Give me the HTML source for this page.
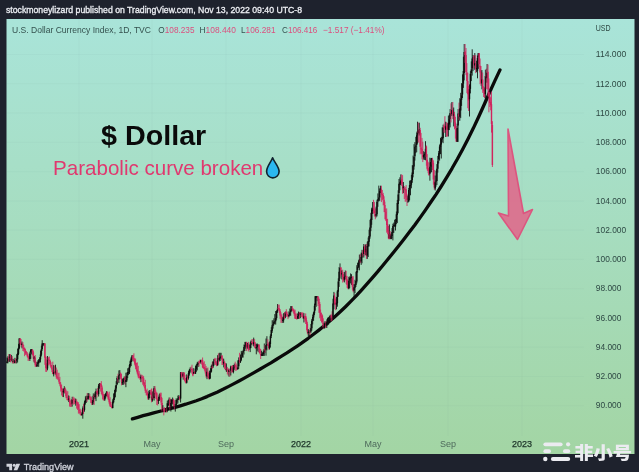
<!DOCTYPE html>
<html lang="en">
<head>
<meta charset="utf-8">
<title>U.S. Dollar Currency Index</title>
<style>
html,body{margin:0;padding:0;background:#1e222d;}
body{width:639px;height:472px;overflow:hidden;position:relative;font-family:"Liberation Sans","Noto Sans CJK SC",sans-serif;}
svg{position:absolute;left:0;top:0;display:block}
text{font-family:"Liberation Sans","Noto Sans CJK SC",sans-serif;}
.hdr{font-size:9.3px;fill:#eceef3;stroke:#eceef3;stroke-width:.32px}
.lg{font-size:9px;fill:#35524f}
.lg .v{fill:#dc4f7e}
.ax text{font-size:9px;fill:#2f4a45}
.ax .mo{fill:#4f6b5c}
.ax .yr{fill:#20382c;stroke:#20382c;stroke-width:.25px}
.grid path{stroke:#5a8f80;stroke-opacity:.05;stroke-width:1;fill:none}
.tv{font-size:8.9px;fill:#d1d4dc;stroke:#d1d4dc;stroke-width:.3px}
.wm{font-size:17.3px;font-weight:900;fill:#ebebf0}
</style>
</head>
<body>
<svg width="639" height="472" viewBox="0 0 639 472">
<defs>
<linearGradient id="bg" x1="0" y1="0" x2="0" y2="1">
<stop offset="0" stop-color="#a9e4d9"/>
<stop offset="1" stop-color="#a3d5a4"/>
</linearGradient>
</defs>
<rect x="0" y="0" width="639" height="472" fill="#1e222d"/>
<rect x="6.5" y="19" width="628" height="435" fill="url(#bg)"/>
<g class="grid"><path d="M6.5 405.8H584"/><path d="M6.5 376.5H584"/><path d="M6.5 347.2H584"/><path d="M6.5 317.9H584"/><path d="M6.5 288.7H584"/><path d="M6.5 259.4H584"/><path d="M6.5 230.1H584"/><path d="M6.5 200.9H584"/><path d="M6.5 171.6H584"/><path d="M6.5 142.3H584"/><path d="M6.5 113.1H584"/><path d="M6.5 83.8H584"/><path d="M6.5 54.5H584"/><path d="M79 19V436"/><path d="M152 19V436"/><path d="M226 19V436"/><path d="M301 19V436"/><path d="M373 19V436"/><path d="M448 19V436"/><path d="M522 19V436"/></g>
<text class="hdr" x="6" y="12.7" textLength="296" lengthAdjust="spacingAndGlyphs">stockmoneylizard published on TradingView.com, Nov 13, 2022 09:40 UTC-8</text>
<g class="lg">
<text x="12" y="32.6" textLength="139" lengthAdjust="spacingAndGlyphs">U.S. Dollar Currency Index, 1D, TVC</text>
<text x="158.3" y="32.6" textLength="36.2" lengthAdjust="spacingAndGlyphs">O<tspan class="v">108.235</tspan></text>
<text x="199.5" y="32.6" textLength="36.5" lengthAdjust="spacingAndGlyphs">H<tspan class="v">108.440</tspan></text>
<text x="241" y="32.6" textLength="34.5" lengthAdjust="spacingAndGlyphs">L<tspan class="v">106.281</tspan></text>
<text x="282" y="32.6" textLength="35.3" lengthAdjust="spacingAndGlyphs">C<tspan class="v">106.416</tspan></text>
<text x="323" y="32.6" class="v" textLength="61.5" lengthAdjust="spacingAndGlyphs">−1.517 (−1.41%)</text>
</g>
<g class="ax">
<text x="595.8" y="31.2" textLength="14.8" lengthAdjust="spacingAndGlyphs">USD</text>
<text x="595.8" y="408.4" textLength="25.6" lengthAdjust="spacingAndGlyphs">90.000</text>
<text x="595.8" y="379.2" textLength="25.6" lengthAdjust="spacingAndGlyphs">92.000</text>
<text x="595.8" y="349.9" textLength="25.6" lengthAdjust="spacingAndGlyphs">94.000</text>
<text x="595.8" y="320.6" textLength="25.6" lengthAdjust="spacingAndGlyphs">96.000</text>
<text x="595.8" y="291.4" textLength="25.6" lengthAdjust="spacingAndGlyphs">98.000</text>
<text x="595.8" y="262.1" textLength="30.4" lengthAdjust="spacingAndGlyphs">100.000</text>
<text x="595.8" y="232.8" textLength="30.4" lengthAdjust="spacingAndGlyphs">102.000</text>
<text x="595.8" y="203.6" textLength="30.4" lengthAdjust="spacingAndGlyphs">104.000</text>
<text x="595.8" y="174.3" textLength="30.4" lengthAdjust="spacingAndGlyphs">106.000</text>
<text x="595.8" y="145.0" textLength="30.4" lengthAdjust="spacingAndGlyphs">108.000</text>
<text x="595.8" y="115.8" textLength="30.4" lengthAdjust="spacingAndGlyphs">110.000</text>
<text x="595.8" y="86.5" textLength="30.4" lengthAdjust="spacingAndGlyphs">112.000</text>
<text x="595.8" y="57.2" textLength="30.4" lengthAdjust="spacingAndGlyphs">114.000</text>
<text class="yr" x="79" y="447.3" text-anchor="middle">2021</text>
<text class="mo" x="152" y="447.3" text-anchor="middle">May</text>
<text class="mo" x="226" y="447.3" text-anchor="middle">Sep</text>
<text class="yr" x="301" y="447.3" text-anchor="middle">2022</text>
<text class="mo" x="373" y="447.3" text-anchor="middle">May</text>
<text class="mo" x="448" y="447.3" text-anchor="middle">Sep</text>
<text class="yr" x="522" y="447.3" text-anchor="middle">2023</text>
</g>
<path d="M132.4 418.9L137.7 417.3L143.1 415.7L148.4 414.3L153.7 412.9L159.0 411.5L164.4 410.1L169.7 408.7L175.0 407.3L180.3 405.8L185.7 404.2L191.0 402.5L196.3 400.7L201.7 398.7L207.0 396.6L212.3 394.3L217.6 391.9L223.0 389.3L228.3 386.6L233.6 383.9L239.0 381.0L244.3 378.1L249.6 375.1L254.9 372.1L260.3 369.0L265.6 365.9L270.9 362.8L276.2 359.5L281.6 356.2L286.9 352.9L292.2 349.4L297.6 345.8L302.9 342.1L308.2 338.3L313.5 334.3L318.9 330.1L324.2 325.8L329.5 321.3L334.8 316.7L340.2 311.8L345.5 306.7L350.8 301.4L356.2 295.9L361.5 290.1L366.8 284.2L372.1 278.1L377.5 271.9L382.8 265.5L388.1 259.0L393.4 252.5L398.8 245.8L404.1 239.0L409.4 232.1L414.8 225.0L420.1 217.6L425.4 210.1L430.7 202.3L436.1 194.3L441.4 186.0L446.7 177.3L452.1 168.3L457.4 159.0L462.7 149.2L468.0 138.9L473.4 128.1L478.7 116.8L484.0 105.0L489.3 93.0L494.7 81.1L500.0 69.9" fill="none" stroke="#0a0a0a" stroke-width="3.3" stroke-linecap="round" stroke-linejoin="round"/>
<g id="candles" shape-rendering="auto">
<path d="M7.0 357.5V363.4" stroke="#0d0d0d" stroke-width="1" opacity=".85"/>
<path d="M7.0 361.5V363.1" stroke="#0d0d0d" stroke-width="1.4"/>
<path d="M7.9 356.2V363.3" stroke="#0d0d0d" stroke-width="1" opacity=".85"/>
<path d="M7.9 358.3V361.6" stroke="#0d0d0d" stroke-width="1.4"/>
<path d="M8.8 354.1V361.6" stroke="#d0245d" stroke-width="1" opacity=".85"/>
<path d="M8.8 357.5V358.7" stroke="#d0245d" stroke-width="1.4"/>
<path d="M9.6 354.1V361.9" stroke="#0d0d0d" stroke-width="1" opacity=".85"/>
<path d="M9.6 356.6V358.2" stroke="#0d0d0d" stroke-width="1.4"/>
<path d="M10.5 354.1V362.3" stroke="#d0245d" stroke-width="1" opacity=".85"/>
<path d="M10.5 356.3V359.1" stroke="#d0245d" stroke-width="1.4"/>
<path d="M11.4 354.9V361.3" stroke="#0d0d0d" stroke-width="1" opacity=".85"/>
<path d="M11.4 358.8V360.0" stroke="#0d0d0d" stroke-width="1.4"/>
<path d="M12.3 356.1V363.4" stroke="#d0245d" stroke-width="1" opacity=".85"/>
<path d="M12.3 358.8V360.3" stroke="#d0245d" stroke-width="1.4"/>
<path d="M13.2 358.8V363.4" stroke="#0d0d0d" stroke-width="1" opacity=".85"/>
<path d="M13.2 360.7V361.9" stroke="#0d0d0d" stroke-width="1.4"/>
<path d="M14.0 360.1V363.4" stroke="#d0245d" stroke-width="1" opacity=".85"/>
<path d="M14.0 361.5V363.1" stroke="#d0245d" stroke-width="1.4"/>
<path d="M14.9 357.8V363.4" stroke="#0d0d0d" stroke-width="1" opacity=".85"/>
<path d="M14.9 360.2V363.1" stroke="#0d0d0d" stroke-width="1.4"/>
<path d="M15.8 358.3V363.4" stroke="#d0245d" stroke-width="1" opacity=".85"/>
<path d="M15.8 359.5V360.7" stroke="#d0245d" stroke-width="1.4"/>
<path d="M16.7 354.2V363.4" stroke="#0d0d0d" stroke-width="1" opacity=".85"/>
<path d="M16.7 359.2V360.4" stroke="#0d0d0d" stroke-width="1.4"/>
<path d="M17.6 348.7V362.5" stroke="#0d0d0d" stroke-width="1" opacity=".85"/>
<path d="M17.6 353.3V359.3" stroke="#0d0d0d" stroke-width="1.4"/>
<path d="M18.5 343.8V355.1" stroke="#0d0d0d" stroke-width="1" opacity=".85"/>
<path d="M18.5 347.8V353.8" stroke="#0d0d0d" stroke-width="1.4"/>
<path d="M19.3 338.1V349.3" stroke="#0d0d0d" stroke-width="1" opacity=".85"/>
<path d="M19.3 338.4V348.2" stroke="#0d0d0d" stroke-width="1.4"/>
<path d="M20.2 338.1V344.8" stroke="#d0245d" stroke-width="1" opacity=".85"/>
<path d="M20.2 338.4V343.3" stroke="#d0245d" stroke-width="1.4"/>
<path d="M21.1 339.1V347.2" stroke="#d0245d" stroke-width="1" opacity=".85"/>
<path d="M21.1 342.9V344.9" stroke="#d0245d" stroke-width="1.4"/>
<path d="M22.0 341.5V348.4" stroke="#0d0d0d" stroke-width="1" opacity=".85"/>
<path d="M22.0 343.7V344.9" stroke="#0d0d0d" stroke-width="1.4"/>
<path d="M22.9 342.1V351.0" stroke="#d0245d" stroke-width="1" opacity=".85"/>
<path d="M22.9 344.4V347.7" stroke="#d0245d" stroke-width="1.4"/>
<path d="M23.7 344.8V351.5" stroke="#d0245d" stroke-width="1" opacity=".85"/>
<path d="M23.7 347.9V349.1" stroke="#d0245d" stroke-width="1.4"/>
<path d="M24.6 347.4V356.2" stroke="#d0245d" stroke-width="1" opacity=".85"/>
<path d="M24.6 348.2V350.2" stroke="#d0245d" stroke-width="1.4"/>
<path d="M25.5 348.9V354.8" stroke="#d0245d" stroke-width="1" opacity=".85"/>
<path d="M25.5 350.5V352.8" stroke="#d0245d" stroke-width="1.4"/>
<path d="M26.4 351.0V354.9" stroke="#d0245d" stroke-width="1" opacity=".85"/>
<path d="M26.4 352.2V353.5" stroke="#d0245d" stroke-width="1.4"/>
<path d="M27.3 352.2V357.4" stroke="#d0245d" stroke-width="1" opacity=".85"/>
<path d="M27.3 354.4V356.3" stroke="#d0245d" stroke-width="1.4"/>
<path d="M28.1 353.5V360.9" stroke="#d0245d" stroke-width="1" opacity=".85"/>
<path d="M28.1 356.2V357.4" stroke="#d0245d" stroke-width="1.4"/>
<path d="M29.0 355.6V360.9" stroke="#d0245d" stroke-width="1" opacity=".85"/>
<path d="M29.0 357.0V359.0" stroke="#d0245d" stroke-width="1.4"/>
<path d="M29.9 351.6V360.9" stroke="#0d0d0d" stroke-width="1" opacity=".85"/>
<path d="M29.9 353.4V358.9" stroke="#0d0d0d" stroke-width="1.4"/>
<path d="M30.8 349.1V358.8" stroke="#0d0d0d" stroke-width="1" opacity=".85"/>
<path d="M30.8 349.4V352.5" stroke="#0d0d0d" stroke-width="1.4"/>
<path d="M31.7 349.1V354.4" stroke="#0d0d0d" stroke-width="1" opacity=".85"/>
<path d="M31.7 349.4V350.6" stroke="#0d0d0d" stroke-width="1.4"/>
<path d="M32.5 349.1V355.4" stroke="#d0245d" stroke-width="1" opacity=".85"/>
<path d="M32.5 349.8V352.2" stroke="#d0245d" stroke-width="1.4"/>
<path d="M33.4 350.6V361.7" stroke="#d0245d" stroke-width="1" opacity=".85"/>
<path d="M33.4 352.3V358.6" stroke="#d0245d" stroke-width="1.4"/>
<path d="M34.3 356.1V362.8" stroke="#0d0d0d" stroke-width="1" opacity=".85"/>
<path d="M34.3 357.6V358.8" stroke="#0d0d0d" stroke-width="1.4"/>
<path d="M35.2 355.0V366.8" stroke="#d0245d" stroke-width="1" opacity=".85"/>
<path d="M35.2 357.6V364.7" stroke="#d0245d" stroke-width="1.4"/>
<path d="M36.1 361.4V366.9" stroke="#d0245d" stroke-width="1" opacity=".85"/>
<path d="M36.1 363.4V366.6" stroke="#d0245d" stroke-width="1.4"/>
<path d="M37.0 362.0V366.9" stroke="#0d0d0d" stroke-width="1" opacity=".85"/>
<path d="M37.0 364.5V366.6" stroke="#0d0d0d" stroke-width="1.4"/>
<path d="M37.8 360.3V365.7" stroke="#0d0d0d" stroke-width="1" opacity=".85"/>
<path d="M37.8 362.6V363.8" stroke="#0d0d0d" stroke-width="1.4"/>
<path d="M38.7 359.1V366.9" stroke="#0d0d0d" stroke-width="1" opacity=".85"/>
<path d="M38.7 360.4V363.3" stroke="#0d0d0d" stroke-width="1.4"/>
<path d="M39.6 357.2V362.5" stroke="#0d0d0d" stroke-width="1" opacity=".85"/>
<path d="M39.6 359.4V360.6" stroke="#0d0d0d" stroke-width="1.4"/>
<path d="M40.5 350.6V362.4" stroke="#0d0d0d" stroke-width="1" opacity=".85"/>
<path d="M40.5 354.5V359.3" stroke="#0d0d0d" stroke-width="1.4"/>
<path d="M41.4 345.6V356.4" stroke="#0d0d0d" stroke-width="1" opacity=".85"/>
<path d="M41.4 349.2V354.7" stroke="#0d0d0d" stroke-width="1.4"/>
<path d="M42.2 340.2V350.8" stroke="#0d0d0d" stroke-width="1" opacity=".85"/>
<path d="M42.2 343.5V349.1" stroke="#0d0d0d" stroke-width="1.4"/>
<path d="M43.1 343.1V345.8" stroke="#0d0d0d" stroke-width="1" opacity=".85"/>
<path d="M43.1 343.4V344.6" stroke="#0d0d0d" stroke-width="1.4"/>
<path d="M44.0 343.1V346.3" stroke="#0d0d0d" stroke-width="1" opacity=".85"/>
<path d="M44.0 343.4V344.6" stroke="#0d0d0d" stroke-width="1.4"/>
<path d="M44.9 343.1V364.9" stroke="#d0245d" stroke-width="1" opacity=".85"/>
<path d="M44.9 343.4V357.8" stroke="#d0245d" stroke-width="1.4"/>
<path d="M45.8 356.1V371.9" stroke="#d0245d" stroke-width="1" opacity=".85"/>
<path d="M45.8 357.1V368.0" stroke="#d0245d" stroke-width="1.4"/>
<path d="M46.6 363.3V371.9" stroke="#d0245d" stroke-width="1" opacity=".85"/>
<path d="M46.6 367.8V369.0" stroke="#d0245d" stroke-width="1.4"/>
<path d="M47.5 356.0V370.3" stroke="#0d0d0d" stroke-width="1" opacity=".85"/>
<path d="M47.5 359.4V368.4" stroke="#0d0d0d" stroke-width="1.4"/>
<path d="M48.4 357.2V365.4" stroke="#d0245d" stroke-width="1" opacity=".85"/>
<path d="M48.4 358.7V359.9" stroke="#d0245d" stroke-width="1.4"/>
<path d="M49.3 356.5V363.8" stroke="#d0245d" stroke-width="1" opacity=".85"/>
<path d="M49.3 359.9V361.1" stroke="#d0245d" stroke-width="1.4"/>
<path d="M50.2 359.6V366.4" stroke="#d0245d" stroke-width="1" opacity=".85"/>
<path d="M50.2 360.9V364.7" stroke="#d0245d" stroke-width="1.4"/>
<path d="M51.1 362.3V368.3" stroke="#d0245d" stroke-width="1" opacity=".85"/>
<path d="M51.1 364.9V367.4" stroke="#d0245d" stroke-width="1.4"/>
<path d="M51.9 365.0V372.0" stroke="#d0245d" stroke-width="1" opacity=".85"/>
<path d="M51.9 367.4V369.4" stroke="#d0245d" stroke-width="1.4"/>
<path d="M52.8 361.6V374.2" stroke="#d0245d" stroke-width="1" opacity=".85"/>
<path d="M52.8 369.7V373.9" stroke="#d0245d" stroke-width="1.4"/>
<path d="M53.7 365.1V376.4" stroke="#0d0d0d" stroke-width="1" opacity=".85"/>
<path d="M53.7 372.0V374.3" stroke="#0d0d0d" stroke-width="1.4"/>
<path d="M54.6 365.7V374.2" stroke="#d0245d" stroke-width="1" opacity=".85"/>
<path d="M54.6 371.3V372.9" stroke="#d0245d" stroke-width="1.4"/>
<path d="M55.5 364.7V374.6" stroke="#0d0d0d" stroke-width="1" opacity=".85"/>
<path d="M55.5 371.6V373.0" stroke="#0d0d0d" stroke-width="1.4"/>
<path d="M56.3 367.5V378.8" stroke="#d0245d" stroke-width="1" opacity=".85"/>
<path d="M56.3 372.5V376.7" stroke="#d0245d" stroke-width="1.4"/>
<path d="M57.2 369.7V379.5" stroke="#d0245d" stroke-width="1" opacity=".85"/>
<path d="M57.2 376.5V377.7" stroke="#d0245d" stroke-width="1.4"/>
<path d="M58.1 372.8V380.1" stroke="#d0245d" stroke-width="1" opacity=".85"/>
<path d="M58.1 377.6V378.8" stroke="#d0245d" stroke-width="1.4"/>
<path d="M59.0 372.8V383.8" stroke="#d0245d" stroke-width="1" opacity=".85"/>
<path d="M59.0 379.3V381.7" stroke="#d0245d" stroke-width="1.4"/>
<path d="M59.9 376.9V386.3" stroke="#d0245d" stroke-width="1" opacity=".85"/>
<path d="M59.9 381.9V384.2" stroke="#d0245d" stroke-width="1.4"/>
<path d="M60.7 382.3V391.6" stroke="#d0245d" stroke-width="1" opacity=".85"/>
<path d="M60.7 384.4V388.3" stroke="#d0245d" stroke-width="1.4"/>
<path d="M61.6 384.6V395.5" stroke="#d0245d" stroke-width="1" opacity=".85"/>
<path d="M61.6 387.8V389.6" stroke="#d0245d" stroke-width="1.4"/>
<path d="M62.5 388.5V396.9" stroke="#d0245d" stroke-width="1" opacity=".85"/>
<path d="M62.5 389.7V391.6" stroke="#d0245d" stroke-width="1.4"/>
<path d="M63.4 388.8V397.1" stroke="#0d0d0d" stroke-width="1" opacity=".85"/>
<path d="M63.4 391.0V392.4" stroke="#0d0d0d" stroke-width="1.4"/>
<path d="M64.3 386.2V393.3" stroke="#0d0d0d" stroke-width="1" opacity=".85"/>
<path d="M64.3 387.9V391.4" stroke="#0d0d0d" stroke-width="1.4"/>
<path d="M65.1 387.4V393.6" stroke="#d0245d" stroke-width="1" opacity=".85"/>
<path d="M65.1 388.5V392.7" stroke="#d0245d" stroke-width="1.4"/>
<path d="M66.0 389.6V398.2" stroke="#d0245d" stroke-width="1" opacity=".85"/>
<path d="M66.0 392.7V396.2" stroke="#d0245d" stroke-width="1.4"/>
<path d="M66.9 390.8V400.1" stroke="#d0245d" stroke-width="1" opacity=".85"/>
<path d="M66.9 396.6V398.0" stroke="#d0245d" stroke-width="1.4"/>
<path d="M67.8 391.3V400.7" stroke="#d0245d" stroke-width="1" opacity=".85"/>
<path d="M67.8 398.7V399.9" stroke="#d0245d" stroke-width="1.4"/>
<path d="M68.7 395.4V402.0" stroke="#0d0d0d" stroke-width="1" opacity=".85"/>
<path d="M68.7 398.5V399.7" stroke="#0d0d0d" stroke-width="1.4"/>
<path d="M69.6 396.0V406.6" stroke="#d0245d" stroke-width="1" opacity=".85"/>
<path d="M69.6 398.4V402.8" stroke="#d0245d" stroke-width="1.4"/>
<path d="M70.4 400.4V406.9" stroke="#d0245d" stroke-width="1" opacity=".85"/>
<path d="M70.4 403.2V404.4" stroke="#d0245d" stroke-width="1.4"/>
<path d="M71.3 399.8V406.9" stroke="#d0245d" stroke-width="1" opacity=".85"/>
<path d="M71.3 403.0V404.2" stroke="#d0245d" stroke-width="1.4"/>
<path d="M72.2 396.8V406.6" stroke="#0d0d0d" stroke-width="1" opacity=".85"/>
<path d="M72.2 399.3V403.5" stroke="#0d0d0d" stroke-width="1.4"/>
<path d="M73.1 396.6V404.8" stroke="#d0245d" stroke-width="1" opacity=".85"/>
<path d="M73.1 398.7V399.9" stroke="#d0245d" stroke-width="1.4"/>
<path d="M74.0 397.3V404.1" stroke="#d0245d" stroke-width="1" opacity=".85"/>
<path d="M74.0 399.4V400.6" stroke="#d0245d" stroke-width="1.4"/>
<path d="M74.8 398.2V404.2" stroke="#d0245d" stroke-width="1" opacity=".85"/>
<path d="M74.8 400.8V402.0" stroke="#d0245d" stroke-width="1.4"/>
<path d="M75.7 398.6V405.7" stroke="#0d0d0d" stroke-width="1" opacity=".85"/>
<path d="M75.7 401.4V402.6" stroke="#0d0d0d" stroke-width="1.4"/>
<path d="M76.6 399.2V408.6" stroke="#d0245d" stroke-width="1" opacity=".85"/>
<path d="M76.6 402.2V403.6" stroke="#d0245d" stroke-width="1.4"/>
<path d="M77.5 401.5V409.9" stroke="#d0245d" stroke-width="1" opacity=".85"/>
<path d="M77.5 403.4V404.6" stroke="#d0245d" stroke-width="1.4"/>
<path d="M78.4 402.2V413.6" stroke="#d0245d" stroke-width="1" opacity=".85"/>
<path d="M78.4 404.3V408.8" stroke="#d0245d" stroke-width="1.4"/>
<path d="M79.2 404.2V413.3" stroke="#d0245d" stroke-width="1" opacity=".85"/>
<path d="M79.2 409.4V411.3" stroke="#d0245d" stroke-width="1.4"/>
<path d="M80.1 408.7V414.8" stroke="#d0245d" stroke-width="1" opacity=".85"/>
<path d="M80.1 411.2V413.6" stroke="#d0245d" stroke-width="1.4"/>
<path d="M81.0 409.5V415.9" stroke="#d0245d" stroke-width="1" opacity=".85"/>
<path d="M81.0 413.9V415.1" stroke="#d0245d" stroke-width="1.4"/>
<path d="M81.9 412.3V415.8" stroke="#0d0d0d" stroke-width="1" opacity=".85"/>
<path d="M81.9 413.7V414.9" stroke="#0d0d0d" stroke-width="1.4"/>
<path d="M82.8 406.4V418.7" stroke="#0d0d0d" stroke-width="1" opacity=".85"/>
<path d="M82.8 408.3V413.9" stroke="#0d0d0d" stroke-width="1.4"/>
<path d="M83.6 403.9V414.1" stroke="#d0245d" stroke-width="1" opacity=".85"/>
<path d="M83.6 409.1V410.3" stroke="#d0245d" stroke-width="1.4"/>
<path d="M84.5 400.8V411.7" stroke="#0d0d0d" stroke-width="1" opacity=".85"/>
<path d="M84.5 402.6V409.9" stroke="#0d0d0d" stroke-width="1.4"/>
<path d="M85.4 396.3V404.6" stroke="#0d0d0d" stroke-width="1" opacity=".85"/>
<path d="M85.4 399.8V402.7" stroke="#0d0d0d" stroke-width="1.4"/>
<path d="M86.3 395.7V402.9" stroke="#0d0d0d" stroke-width="1" opacity=".85"/>
<path d="M86.3 398.1V399.4" stroke="#0d0d0d" stroke-width="1.4"/>
<path d="M87.2 393.1V401.8" stroke="#d0245d" stroke-width="1" opacity=".85"/>
<path d="M87.2 397.4V399.2" stroke="#d0245d" stroke-width="1.4"/>
<path d="M88.1 393.1V400.0" stroke="#0d0d0d" stroke-width="1" opacity=".85"/>
<path d="M88.1 395.9V399.1" stroke="#0d0d0d" stroke-width="1.4"/>
<path d="M88.9 393.1V398.2" stroke="#0d0d0d" stroke-width="1" opacity=".85"/>
<path d="M88.9 396.1V397.3" stroke="#0d0d0d" stroke-width="1.4"/>
<path d="M89.8 394.0V400.0" stroke="#d0245d" stroke-width="1" opacity=".85"/>
<path d="M89.8 396.5V398.3" stroke="#d0245d" stroke-width="1.4"/>
<path d="M90.7 396.5V403.1" stroke="#d0245d" stroke-width="1" opacity=".85"/>
<path d="M90.7 398.5V399.7" stroke="#d0245d" stroke-width="1.4"/>
<path d="M91.6 396.6V404.9" stroke="#d0245d" stroke-width="1" opacity=".85"/>
<path d="M91.6 400.2V401.9" stroke="#d0245d" stroke-width="1.4"/>
<path d="M92.5 400.1V404.9" stroke="#0d0d0d" stroke-width="1" opacity=".85"/>
<path d="M92.5 401.9V403.1" stroke="#0d0d0d" stroke-width="1.4"/>
<path d="M93.3 393.4V404.5" stroke="#0d0d0d" stroke-width="1" opacity=".85"/>
<path d="M93.3 395.8V401.9" stroke="#0d0d0d" stroke-width="1.4"/>
<path d="M94.2 394.5V404.9" stroke="#d0245d" stroke-width="1" opacity=".85"/>
<path d="M94.2 395.9V397.1" stroke="#d0245d" stroke-width="1.4"/>
<path d="M95.1 391.8V399.2" stroke="#0d0d0d" stroke-width="1" opacity=".85"/>
<path d="M95.1 393.4V397.2" stroke="#0d0d0d" stroke-width="1.4"/>
<path d="M96.0 388.6V401.1" stroke="#0d0d0d" stroke-width="1" opacity=".85"/>
<path d="M96.0 391.2V393.8" stroke="#0d0d0d" stroke-width="1.4"/>
<path d="M96.9 390.4V397.5" stroke="#d0245d" stroke-width="1" opacity=".85"/>
<path d="M96.9 391.2V392.4" stroke="#d0245d" stroke-width="1.4"/>
<path d="M97.7 387.9V395.0" stroke="#d0245d" stroke-width="1" opacity=".85"/>
<path d="M97.7 390.9V393.5" stroke="#d0245d" stroke-width="1.4"/>
<path d="M98.6 384.0V396.5" stroke="#0d0d0d" stroke-width="1" opacity=".85"/>
<path d="M98.6 385.7V394.2" stroke="#0d0d0d" stroke-width="1.4"/>
<path d="M99.5 383.1V388.7" stroke="#0d0d0d" stroke-width="1" opacity=".85"/>
<path d="M99.5 383.4V385.6" stroke="#0d0d0d" stroke-width="1.4"/>
<path d="M100.4 383.1V391.6" stroke="#d0245d" stroke-width="1" opacity=".85"/>
<path d="M100.4 383.7V384.9" stroke="#d0245d" stroke-width="1.4"/>
<path d="M101.3 381.1V394.0" stroke="#d0245d" stroke-width="1" opacity=".85"/>
<path d="M101.3 384.3V387.1" stroke="#d0245d" stroke-width="1.4"/>
<path d="M102.1 385.5V395.6" stroke="#d0245d" stroke-width="1" opacity=".85"/>
<path d="M102.1 387.5V394.5" stroke="#d0245d" stroke-width="1.4"/>
<path d="M103.0 391.5V400.1" stroke="#d0245d" stroke-width="1" opacity=".85"/>
<path d="M103.0 394.1V399.0" stroke="#d0245d" stroke-width="1.4"/>
<path d="M103.9 393.8V400.9" stroke="#d0245d" stroke-width="1" opacity=".85"/>
<path d="M103.9 398.5V399.7" stroke="#d0245d" stroke-width="1.4"/>
<path d="M104.8 394.2V400.9" stroke="#0d0d0d" stroke-width="1" opacity=".85"/>
<path d="M104.8 395.8V399.6" stroke="#0d0d0d" stroke-width="1.4"/>
<path d="M105.7 392.8V398.4" stroke="#0d0d0d" stroke-width="1" opacity=".85"/>
<path d="M105.7 393.8V396.3" stroke="#0d0d0d" stroke-width="1.4"/>
<path d="M106.6 391.3V396.3" stroke="#0d0d0d" stroke-width="1" opacity=".85"/>
<path d="M106.6 391.6V393.4" stroke="#0d0d0d" stroke-width="1.4"/>
<path d="M107.4 391.6V397.3" stroke="#d0245d" stroke-width="1" opacity=".85"/>
<path d="M107.4 391.9V395.6" stroke="#d0245d" stroke-width="1.4"/>
<path d="M108.3 393.6V400.2" stroke="#d0245d" stroke-width="1" opacity=".85"/>
<path d="M108.3 395.6V399.2" stroke="#d0245d" stroke-width="1.4"/>
<path d="M109.2 391.6V404.2" stroke="#d0245d" stroke-width="1" opacity=".85"/>
<path d="M109.2 399.0V402.2" stroke="#d0245d" stroke-width="1.4"/>
<path d="M110.1 397.2V406.9" stroke="#d0245d" stroke-width="1" opacity=".85"/>
<path d="M110.1 401.8V405.7" stroke="#d0245d" stroke-width="1.4"/>
<path d="M111.0 401.9V407.0" stroke="#d0245d" stroke-width="1" opacity=".85"/>
<path d="M111.0 405.7V406.9" stroke="#d0245d" stroke-width="1.4"/>
<path d="M111.8 404.3V408.4" stroke="#d0245d" stroke-width="1" opacity=".85"/>
<path d="M111.8 406.9V408.1" stroke="#d0245d" stroke-width="1.4"/>
<path d="M112.7 399.3V408.4" stroke="#0d0d0d" stroke-width="1" opacity=".85"/>
<path d="M112.7 401.5V408.1" stroke="#0d0d0d" stroke-width="1.4"/>
<path d="M113.6 393.5V403.4" stroke="#0d0d0d" stroke-width="1" opacity=".85"/>
<path d="M113.6 398.0V402.3" stroke="#0d0d0d" stroke-width="1.4"/>
<path d="M114.5 390.0V400.0" stroke="#0d0d0d" stroke-width="1" opacity=".85"/>
<path d="M114.5 392.9V398.2" stroke="#0d0d0d" stroke-width="1.4"/>
<path d="M115.4 385.7V397.2" stroke="#0d0d0d" stroke-width="1" opacity=".85"/>
<path d="M115.4 388.6V392.6" stroke="#0d0d0d" stroke-width="1.4"/>
<path d="M116.2 381.2V391.7" stroke="#0d0d0d" stroke-width="1" opacity=".85"/>
<path d="M116.2 385.1V388.4" stroke="#0d0d0d" stroke-width="1.4"/>
<path d="M117.1 376.2V385.2" stroke="#0d0d0d" stroke-width="1" opacity=".85"/>
<path d="M117.1 378.1V384.3" stroke="#0d0d0d" stroke-width="1.4"/>
<path d="M118.0 373.7V382.4" stroke="#d0245d" stroke-width="1" opacity=".85"/>
<path d="M118.0 377.8V379.0" stroke="#d0245d" stroke-width="1.4"/>
<path d="M118.9 370.4V383.1" stroke="#0d0d0d" stroke-width="1" opacity=".85"/>
<path d="M118.9 375.2V379.5" stroke="#0d0d0d" stroke-width="1.4"/>
<path d="M119.8 370.1V376.0" stroke="#0d0d0d" stroke-width="1" opacity=".85"/>
<path d="M119.8 374.0V375.2" stroke="#0d0d0d" stroke-width="1.4"/>
<path d="M120.6 372.4V379.2" stroke="#d0245d" stroke-width="1" opacity=".85"/>
<path d="M120.6 373.6V377.6" stroke="#d0245d" stroke-width="1.4"/>
<path d="M121.5 373.7V385.3" stroke="#d0245d" stroke-width="1" opacity=".85"/>
<path d="M121.5 378.7V382.1" stroke="#d0245d" stroke-width="1.4"/>
<path d="M122.4 378.7V384.9" stroke="#0d0d0d" stroke-width="1" opacity=".85"/>
<path d="M122.4 382.1V383.3" stroke="#0d0d0d" stroke-width="1.4"/>
<path d="M123.3 378.0V384.9" stroke="#0d0d0d" stroke-width="1" opacity=".85"/>
<path d="M123.3 379.4V382.0" stroke="#0d0d0d" stroke-width="1.4"/>
<path d="M124.2 376.5V383.7" stroke="#0d0d0d" stroke-width="1" opacity=".85"/>
<path d="M124.2 377.7V380.0" stroke="#0d0d0d" stroke-width="1.4"/>
<path d="M125.1 375.9V384.9" stroke="#d0245d" stroke-width="1" opacity=".85"/>
<path d="M125.1 377.3V381.2" stroke="#d0245d" stroke-width="1.4"/>
<path d="M125.9 372.7V387.2" stroke="#0d0d0d" stroke-width="1" opacity=".85"/>
<path d="M125.9 380.1V382.1" stroke="#0d0d0d" stroke-width="1.4"/>
<path d="M126.8 372.5V382.0" stroke="#0d0d0d" stroke-width="1" opacity=".85"/>
<path d="M126.8 375.7V380.5" stroke="#0d0d0d" stroke-width="1.4"/>
<path d="M127.7 368.3V378.1" stroke="#0d0d0d" stroke-width="1" opacity=".85"/>
<path d="M127.7 372.1V375.2" stroke="#0d0d0d" stroke-width="1.4"/>
<path d="M128.6 367.6V374.8" stroke="#0d0d0d" stroke-width="1" opacity=".85"/>
<path d="M128.6 371.9V373.1" stroke="#0d0d0d" stroke-width="1.4"/>
<path d="M129.5 364.0V374.0" stroke="#0d0d0d" stroke-width="1" opacity=".85"/>
<path d="M129.5 365.1V372.1" stroke="#0d0d0d" stroke-width="1.4"/>
<path d="M130.3 360.3V367.5" stroke="#0d0d0d" stroke-width="1" opacity=".85"/>
<path d="M130.3 361.2V365.6" stroke="#0d0d0d" stroke-width="1.4"/>
<path d="M131.2 357.1V366.1" stroke="#0d0d0d" stroke-width="1" opacity=".85"/>
<path d="M131.2 358.4V362.1" stroke="#0d0d0d" stroke-width="1.4"/>
<path d="M132.1 355.1V361.4" stroke="#0d0d0d" stroke-width="1" opacity=".85"/>
<path d="M132.1 355.4V358.8" stroke="#0d0d0d" stroke-width="1.4"/>
<path d="M133.0 355.1V360.3" stroke="#d0245d" stroke-width="1" opacity=".85"/>
<path d="M133.0 355.4V359.0" stroke="#d0245d" stroke-width="1.4"/>
<path d="M133.9 353.3V361.9" stroke="#d0245d" stroke-width="1" opacity=".85"/>
<path d="M133.9 358.7V360.9" stroke="#d0245d" stroke-width="1.4"/>
<path d="M134.7 357.9V365.3" stroke="#d0245d" stroke-width="1" opacity=".85"/>
<path d="M134.7 360.5V363.4" stroke="#d0245d" stroke-width="1.4"/>
<path d="M135.6 358.6V369.3" stroke="#d0245d" stroke-width="1" opacity=".85"/>
<path d="M135.6 362.7V366.7" stroke="#d0245d" stroke-width="1.4"/>
<path d="M136.5 362.8V371.6" stroke="#d0245d" stroke-width="1" opacity=".85"/>
<path d="M136.5 366.7V369.0" stroke="#d0245d" stroke-width="1.4"/>
<path d="M137.4 362.4V374.6" stroke="#d0245d" stroke-width="1" opacity=".85"/>
<path d="M137.4 369.4V373.5" stroke="#d0245d" stroke-width="1.4"/>
<path d="M138.3 365.8V378.3" stroke="#d0245d" stroke-width="1" opacity=".85"/>
<path d="M138.3 373.4V376.4" stroke="#d0245d" stroke-width="1.4"/>
<path d="M139.2 371.1V378.2" stroke="#d0245d" stroke-width="1" opacity=".85"/>
<path d="M139.2 376.5V377.7" stroke="#d0245d" stroke-width="1.4"/>
<path d="M140.0 373.6V379.9" stroke="#d0245d" stroke-width="1" opacity=".85"/>
<path d="M140.0 376.4V378.2" stroke="#d0245d" stroke-width="1.4"/>
<path d="M140.9 374.8V382.2" stroke="#0d0d0d" stroke-width="1" opacity=".85"/>
<path d="M140.9 376.8V378.4" stroke="#0d0d0d" stroke-width="1.4"/>
<path d="M141.8 374.7V381.9" stroke="#d0245d" stroke-width="1" opacity=".85"/>
<path d="M141.8 377.0V378.2" stroke="#d0245d" stroke-width="1.4"/>
<path d="M142.7 375.3V384.7" stroke="#d0245d" stroke-width="1" opacity=".85"/>
<path d="M142.7 377.0V378.2" stroke="#d0245d" stroke-width="1.4"/>
<path d="M143.6 376.1V386.4" stroke="#d0245d" stroke-width="1" opacity=".85"/>
<path d="M143.6 378.2V383.3" stroke="#d0245d" stroke-width="1.4"/>
<path d="M144.4 382.0V388.4" stroke="#d0245d" stroke-width="1" opacity=".85"/>
<path d="M144.4 383.0V384.8" stroke="#d0245d" stroke-width="1.4"/>
<path d="M145.3 379.8V393.1" stroke="#d0245d" stroke-width="1" opacity=".85"/>
<path d="M145.3 384.9V390.8" stroke="#d0245d" stroke-width="1.4"/>
<path d="M146.2 389.8V395.4" stroke="#d0245d" stroke-width="1" opacity=".85"/>
<path d="M146.2 390.6V391.8" stroke="#d0245d" stroke-width="1.4"/>
<path d="M147.1 388.6V395.7" stroke="#d0245d" stroke-width="1" opacity=".85"/>
<path d="M147.1 391.8V394.9" stroke="#d0245d" stroke-width="1.4"/>
<path d="M148.0 392.6V399.9" stroke="#d0245d" stroke-width="1" opacity=".85"/>
<path d="M148.0 393.6V398.5" stroke="#d0245d" stroke-width="1.4"/>
<path d="M148.8 390.7V399.9" stroke="#0d0d0d" stroke-width="1" opacity=".85"/>
<path d="M148.8 393.7V398.5" stroke="#0d0d0d" stroke-width="1.4"/>
<path d="M149.7 390.0V398.0" stroke="#0d0d0d" stroke-width="1" opacity=".85"/>
<path d="M149.7 392.3V393.9" stroke="#0d0d0d" stroke-width="1.4"/>
<path d="M150.6 389.7V394.9" stroke="#d0245d" stroke-width="1" opacity=".85"/>
<path d="M150.6 392.9V394.1" stroke="#d0245d" stroke-width="1.4"/>
<path d="M151.5 388.5V402.3" stroke="#d0245d" stroke-width="1" opacity=".85"/>
<path d="M151.5 393.0V399.6" stroke="#d0245d" stroke-width="1.4"/>
<path d="M152.4 391.4V401.7" stroke="#0d0d0d" stroke-width="1" opacity=".85"/>
<path d="M152.4 396.6V400.4" stroke="#0d0d0d" stroke-width="1.4"/>
<path d="M153.2 388.5V399.5" stroke="#d0245d" stroke-width="1" opacity=".85"/>
<path d="M153.2 396.3V398.4" stroke="#d0245d" stroke-width="1.4"/>
<path d="M154.1 386.1V400.6" stroke="#0d0d0d" stroke-width="1" opacity=".85"/>
<path d="M154.1 388.3V398.1" stroke="#0d0d0d" stroke-width="1.4"/>
<path d="M155.0 386.1V396.5" stroke="#d0245d" stroke-width="1" opacity=".85"/>
<path d="M155.0 388.4V392.9" stroke="#d0245d" stroke-width="1.4"/>
<path d="M155.9 390.5V398.9" stroke="#d0245d" stroke-width="1" opacity=".85"/>
<path d="M155.9 392.6V394.4" stroke="#d0245d" stroke-width="1.4"/>
<path d="M156.8 392.3V405.0" stroke="#d0245d" stroke-width="1" opacity=".85"/>
<path d="M156.8 393.3V399.5" stroke="#d0245d" stroke-width="1.4"/>
<path d="M157.7 398.3V405.5" stroke="#d0245d" stroke-width="1" opacity=".85"/>
<path d="M157.7 399.6V401.0" stroke="#d0245d" stroke-width="1.4"/>
<path d="M158.5 396.7V403.9" stroke="#0d0d0d" stroke-width="1" opacity=".85"/>
<path d="M158.5 399.7V400.9" stroke="#0d0d0d" stroke-width="1.4"/>
<path d="M159.4 393.5V400.9" stroke="#0d0d0d" stroke-width="1" opacity=".85"/>
<path d="M159.4 394.7V399.5" stroke="#0d0d0d" stroke-width="1.4"/>
<path d="M160.3 392.7V400.1" stroke="#d0245d" stroke-width="1" opacity=".85"/>
<path d="M160.3 394.4V396.4" stroke="#d0245d" stroke-width="1.4"/>
<path d="M161.2 392.7V405.1" stroke="#d0245d" stroke-width="1" opacity=".85"/>
<path d="M161.2 397.0V402.5" stroke="#d0245d" stroke-width="1.4"/>
<path d="M162.1 397.8V411.4" stroke="#d0245d" stroke-width="1" opacity=".85"/>
<path d="M162.1 403.0V409.7" stroke="#d0245d" stroke-width="1.4"/>
<path d="M162.9 405.2V412.2" stroke="#0d0d0d" stroke-width="1" opacity=".85"/>
<path d="M162.9 409.2V410.4" stroke="#0d0d0d" stroke-width="1.4"/>
<path d="M163.8 407.7V415.4" stroke="#d0245d" stroke-width="1" opacity=".85"/>
<path d="M163.8 409.3V410.5" stroke="#d0245d" stroke-width="1.4"/>
<path d="M164.7 407.1V412.4" stroke="#d0245d" stroke-width="1" opacity=".85"/>
<path d="M164.7 409.3V411.7" stroke="#d0245d" stroke-width="1.4"/>
<path d="M165.6 408.5V412.4" stroke="#0d0d0d" stroke-width="1" opacity=".85"/>
<path d="M165.6 410.0V411.8" stroke="#0d0d0d" stroke-width="1.4"/>
<path d="M166.5 407.1V412.4" stroke="#d0245d" stroke-width="1" opacity=".85"/>
<path d="M166.5 409.2V411.0" stroke="#d0245d" stroke-width="1.4"/>
<path d="M167.3 400.7V412.2" stroke="#0d0d0d" stroke-width="1" opacity=".85"/>
<path d="M167.3 403.2V411.1" stroke="#0d0d0d" stroke-width="1.4"/>
<path d="M168.2 399.9V406.4" stroke="#0d0d0d" stroke-width="1" opacity=".85"/>
<path d="M168.2 404.0V405.2" stroke="#0d0d0d" stroke-width="1.4"/>
<path d="M169.1 397.5V405.8" stroke="#0d0d0d" stroke-width="1" opacity=".85"/>
<path d="M169.1 399.4V404.0" stroke="#0d0d0d" stroke-width="1.4"/>
<path d="M170.0 397.5V409.8" stroke="#d0245d" stroke-width="1" opacity=".85"/>
<path d="M170.0 399.0V406.9" stroke="#d0245d" stroke-width="1.4"/>
<path d="M170.9 399.4V411.5" stroke="#0d0d0d" stroke-width="1" opacity=".85"/>
<path d="M170.9 403.0V406.6" stroke="#0d0d0d" stroke-width="1.4"/>
<path d="M171.7 398.9V407.5" stroke="#0d0d0d" stroke-width="1" opacity=".85"/>
<path d="M171.7 400.1V403.4" stroke="#0d0d0d" stroke-width="1.4"/>
<path d="M172.6 397.5V404.4" stroke="#0d0d0d" stroke-width="1" opacity=".85"/>
<path d="M172.6 400.1V401.3" stroke="#0d0d0d" stroke-width="1.4"/>
<path d="M173.5 398.7V406.2" stroke="#d0245d" stroke-width="1" opacity=".85"/>
<path d="M173.5 399.6V403.9" stroke="#d0245d" stroke-width="1.4"/>
<path d="M174.4 400.3V409.4" stroke="#d0245d" stroke-width="1" opacity=".85"/>
<path d="M174.4 404.4V406.9" stroke="#d0245d" stroke-width="1.4"/>
<path d="M175.3 403.9V411.6" stroke="#0d0d0d" stroke-width="1" opacity=".85"/>
<path d="M175.3 405.9V407.1" stroke="#0d0d0d" stroke-width="1.4"/>
<path d="M176.2 398.3V407.0" stroke="#0d0d0d" stroke-width="1" opacity=".85"/>
<path d="M176.2 400.1V405.6" stroke="#0d0d0d" stroke-width="1.4"/>
<path d="M177.0 399.2V404.2" stroke="#0d0d0d" stroke-width="1" opacity=".85"/>
<path d="M177.0 400.3V401.5" stroke="#0d0d0d" stroke-width="1.4"/>
<path d="M177.9 395.6V403.4" stroke="#0d0d0d" stroke-width="1" opacity=".85"/>
<path d="M177.9 398.3V400.0" stroke="#0d0d0d" stroke-width="1.4"/>
<path d="M178.8 395.1V400.0" stroke="#0d0d0d" stroke-width="1" opacity=".85"/>
<path d="M178.8 397.2V398.4" stroke="#0d0d0d" stroke-width="1.4"/>
<path d="M179.7 395.8V400.4" stroke="#d0245d" stroke-width="1" opacity=".85"/>
<path d="M179.7 396.9V398.6" stroke="#d0245d" stroke-width="1.4"/>
<path d="M180.6 372.1V402.5" stroke="#0d0d0d" stroke-width="1" opacity=".85"/>
<path d="M180.6 372.4V398.6" stroke="#0d0d0d" stroke-width="1.4"/>
<path d="M181.4 372.1V377.9" stroke="#d0245d" stroke-width="1" opacity=".85"/>
<path d="M181.4 372.4V374.3" stroke="#d0245d" stroke-width="1.4"/>
<path d="M182.3 372.1V377.3" stroke="#d0245d" stroke-width="1" opacity=".85"/>
<path d="M182.3 373.9V376.1" stroke="#d0245d" stroke-width="1.4"/>
<path d="M183.2 372.1V379.7" stroke="#0d0d0d" stroke-width="1" opacity=".85"/>
<path d="M183.2 373.4V376.6" stroke="#0d0d0d" stroke-width="1.4"/>
<path d="M184.1 372.1V380.2" stroke="#d0245d" stroke-width="1" opacity=".85"/>
<path d="M184.1 372.7V378.2" stroke="#d0245d" stroke-width="1.4"/>
<path d="M185.0 374.8V382.3" stroke="#d0245d" stroke-width="1" opacity=".85"/>
<path d="M185.0 378.3V381.1" stroke="#d0245d" stroke-width="1.4"/>
<path d="M185.8 378.0V383.5" stroke="#d0245d" stroke-width="1" opacity=".85"/>
<path d="M185.8 381.1V382.7" stroke="#d0245d" stroke-width="1.4"/>
<path d="M186.7 374.4V383.5" stroke="#0d0d0d" stroke-width="1" opacity=".85"/>
<path d="M186.7 377.3V382.7" stroke="#0d0d0d" stroke-width="1.4"/>
<path d="M187.6 375.3V381.1" stroke="#d0245d" stroke-width="1" opacity=".85"/>
<path d="M187.6 376.7V377.9" stroke="#d0245d" stroke-width="1.4"/>
<path d="M188.5 370.9V379.6" stroke="#0d0d0d" stroke-width="1" opacity=".85"/>
<path d="M188.5 372.9V377.9" stroke="#0d0d0d" stroke-width="1.4"/>
<path d="M189.4 368.8V375.6" stroke="#0d0d0d" stroke-width="1" opacity=".85"/>
<path d="M189.4 370.1V373.7" stroke="#0d0d0d" stroke-width="1.4"/>
<path d="M190.2 367.3V372.6" stroke="#0d0d0d" stroke-width="1" opacity=".85"/>
<path d="M190.2 369.1V370.3" stroke="#0d0d0d" stroke-width="1.4"/>
<path d="M191.1 366.6V369.9" stroke="#d0245d" stroke-width="1" opacity=".85"/>
<path d="M191.1 368.9V370.1" stroke="#d0245d" stroke-width="1.4"/>
<path d="M192.0 364.7V373.9" stroke="#d0245d" stroke-width="1" opacity=".85"/>
<path d="M192.0 368.9V372.4" stroke="#d0245d" stroke-width="1.4"/>
<path d="M192.9 368.0V376.3" stroke="#d0245d" stroke-width="1" opacity=".85"/>
<path d="M192.9 372.5V375.4" stroke="#d0245d" stroke-width="1.4"/>
<path d="M193.8 368.2V373.9" stroke="#0d0d0d" stroke-width="1" opacity=".85"/>
<path d="M193.8 372.0V373.6" stroke="#0d0d0d" stroke-width="1.4"/>
<path d="M194.7 371.0V373.9" stroke="#d0245d" stroke-width="1" opacity=".85"/>
<path d="M194.7 372.3V373.5" stroke="#d0245d" stroke-width="1.4"/>
<path d="M195.5 365.7V373.9" stroke="#0d0d0d" stroke-width="1" opacity=".85"/>
<path d="M195.5 368.8V373.6" stroke="#0d0d0d" stroke-width="1.4"/>
<path d="M196.4 364.2V371.8" stroke="#0d0d0d" stroke-width="1" opacity=".85"/>
<path d="M196.4 365.5V368.9" stroke="#0d0d0d" stroke-width="1.4"/>
<path d="M197.3 361.9V370.4" stroke="#0d0d0d" stroke-width="1" opacity=".85"/>
<path d="M197.3 363.5V365.2" stroke="#0d0d0d" stroke-width="1.4"/>
<path d="M198.2 361.5V366.9" stroke="#0d0d0d" stroke-width="1" opacity=".85"/>
<path d="M198.2 363.2V364.4" stroke="#0d0d0d" stroke-width="1.4"/>
<path d="M199.1 360.7V366.6" stroke="#d0245d" stroke-width="1" opacity=".85"/>
<path d="M199.1 361.8V363.0" stroke="#d0245d" stroke-width="1.4"/>
<path d="M199.9 359.7V363.7" stroke="#d0245d" stroke-width="1" opacity=".85"/>
<path d="M199.9 361.1V362.7" stroke="#d0245d" stroke-width="1.4"/>
<path d="M200.8 359.7V363.6" stroke="#0d0d0d" stroke-width="1" opacity=".85"/>
<path d="M200.8 360.0V362.0" stroke="#0d0d0d" stroke-width="1.4"/>
<path d="M201.7 359.7V364.6" stroke="#d0245d" stroke-width="1" opacity=".85"/>
<path d="M201.7 360.0V361.2" stroke="#d0245d" stroke-width="1.4"/>
<path d="M202.6 357.5V368.2" stroke="#d0245d" stroke-width="1" opacity=".85"/>
<path d="M202.6 360.2V367.2" stroke="#d0245d" stroke-width="1.4"/>
<path d="M203.5 362.5V368.8" stroke="#d0245d" stroke-width="1" opacity=".85"/>
<path d="M203.5 366.8V368.0" stroke="#d0245d" stroke-width="1.4"/>
<path d="M204.3 361.3V370.4" stroke="#d0245d" stroke-width="1" opacity=".85"/>
<path d="M204.3 367.1V368.8" stroke="#d0245d" stroke-width="1.4"/>
<path d="M205.2 364.1V373.5" stroke="#d0245d" stroke-width="1" opacity=".85"/>
<path d="M205.2 367.9V371.4" stroke="#d0245d" stroke-width="1.4"/>
<path d="M206.1 366.0V377.7" stroke="#d0245d" stroke-width="1" opacity=".85"/>
<path d="M206.1 371.0V375.8" stroke="#d0245d" stroke-width="1.4"/>
<path d="M207.0 368.3V379.2" stroke="#0d0d0d" stroke-width="1" opacity=".85"/>
<path d="M207.0 372.1V376.4" stroke="#0d0d0d" stroke-width="1.4"/>
<path d="M207.9 367.5V378.4" stroke="#d0245d" stroke-width="1" opacity=".85"/>
<path d="M207.9 371.8V375.7" stroke="#d0245d" stroke-width="1.4"/>
<path d="M208.7 373.8V379.4" stroke="#d0245d" stroke-width="1" opacity=".85"/>
<path d="M208.7 376.2V378.1" stroke="#d0245d" stroke-width="1.4"/>
<path d="M209.6 370.6V379.4" stroke="#0d0d0d" stroke-width="1" opacity=".85"/>
<path d="M209.6 372.7V379.0" stroke="#0d0d0d" stroke-width="1.4"/>
<path d="M210.5 368.2V378.6" stroke="#0d0d0d" stroke-width="1" opacity=".85"/>
<path d="M210.5 371.2V372.4" stroke="#0d0d0d" stroke-width="1.4"/>
<path d="M211.4 364.6V372.5" stroke="#0d0d0d" stroke-width="1" opacity=".85"/>
<path d="M211.4 365.9V371.5" stroke="#0d0d0d" stroke-width="1.4"/>
<path d="M212.3 361.8V368.9" stroke="#d0245d" stroke-width="1" opacity=".85"/>
<path d="M212.3 366.8V368.0" stroke="#d0245d" stroke-width="1.4"/>
<path d="M213.2 361.1V367.8" stroke="#0d0d0d" stroke-width="1" opacity=".85"/>
<path d="M213.2 361.4V366.3" stroke="#0d0d0d" stroke-width="1.4"/>
<path d="M214.0 358.8V365.5" stroke="#0d0d0d" stroke-width="1" opacity=".85"/>
<path d="M214.0 359.4V360.8" stroke="#0d0d0d" stroke-width="1.4"/>
<path d="M214.9 357.8V365.0" stroke="#d0245d" stroke-width="1" opacity=".85"/>
<path d="M214.9 359.4V360.6" stroke="#d0245d" stroke-width="1.4"/>
<path d="M215.8 358.3V365.1" stroke="#d0245d" stroke-width="1" opacity=".85"/>
<path d="M215.8 360.9V363.4" stroke="#d0245d" stroke-width="1.4"/>
<path d="M216.7 361.5V366.3" stroke="#d0245d" stroke-width="1" opacity=".85"/>
<path d="M216.7 362.7V366.0" stroke="#d0245d" stroke-width="1.4"/>
<path d="M217.6 355.2V365.6" stroke="#0d0d0d" stroke-width="1" opacity=".85"/>
<path d="M217.6 357.9V365.3" stroke="#0d0d0d" stroke-width="1.4"/>
<path d="M218.4 353.4V364.6" stroke="#d0245d" stroke-width="1" opacity=".85"/>
<path d="M218.4 357.4V360.1" stroke="#d0245d" stroke-width="1.4"/>
<path d="M219.3 352.8V361.5" stroke="#0d0d0d" stroke-width="1" opacity=".85"/>
<path d="M219.3 358.1V360.2" stroke="#0d0d0d" stroke-width="1.4"/>
<path d="M220.2 352.8V361.0" stroke="#0d0d0d" stroke-width="1" opacity=".85"/>
<path d="M220.2 357.0V358.2" stroke="#0d0d0d" stroke-width="1.4"/>
<path d="M221.1 352.8V359.1" stroke="#0d0d0d" stroke-width="1" opacity=".85"/>
<path d="M221.1 356.2V357.4" stroke="#0d0d0d" stroke-width="1.4"/>
<path d="M222.0 355.0V365.0" stroke="#d0245d" stroke-width="1" opacity=".85"/>
<path d="M222.0 355.8V359.7" stroke="#d0245d" stroke-width="1.4"/>
<path d="M222.8 357.9V365.0" stroke="#d0245d" stroke-width="1" opacity=".85"/>
<path d="M222.8 359.2V363.0" stroke="#d0245d" stroke-width="1.4"/>
<path d="M223.7 358.7V367.4" stroke="#0d0d0d" stroke-width="1" opacity=".85"/>
<path d="M223.7 362.1V363.8" stroke="#0d0d0d" stroke-width="1.4"/>
<path d="M224.6 360.7V369.2" stroke="#d0245d" stroke-width="1" opacity=".85"/>
<path d="M224.6 363.2V365.5" stroke="#d0245d" stroke-width="1.4"/>
<path d="M225.5 362.8V370.2" stroke="#d0245d" stroke-width="1" opacity=".85"/>
<path d="M225.5 365.0V368.4" stroke="#d0245d" stroke-width="1.4"/>
<path d="M226.4 363.4V372.0" stroke="#0d0d0d" stroke-width="1" opacity=".85"/>
<path d="M226.4 369.1V370.3" stroke="#0d0d0d" stroke-width="1.4"/>
<path d="M227.3 366.9V374.3" stroke="#d0245d" stroke-width="1" opacity=".85"/>
<path d="M227.3 368.9V370.1" stroke="#d0245d" stroke-width="1.4"/>
<path d="M228.1 368.1V375.5" stroke="#d0245d" stroke-width="1" opacity=".85"/>
<path d="M228.1 370.0V371.3" stroke="#d0245d" stroke-width="1.4"/>
<path d="M229.0 368.8V376.7" stroke="#0d0d0d" stroke-width="1" opacity=".85"/>
<path d="M229.0 370.3V371.9" stroke="#0d0d0d" stroke-width="1.4"/>
<path d="M229.9 368.7V376.7" stroke="#d0245d" stroke-width="1" opacity=".85"/>
<path d="M229.9 369.8V371.0" stroke="#d0245d" stroke-width="1.4"/>
<path d="M230.8 365.6V375.5" stroke="#0d0d0d" stroke-width="1" opacity=".85"/>
<path d="M230.8 366.6V370.6" stroke="#0d0d0d" stroke-width="1.4"/>
<path d="M231.7 365.9V372.8" stroke="#d0245d" stroke-width="1" opacity=".85"/>
<path d="M231.7 366.8V368.1" stroke="#d0245d" stroke-width="1.4"/>
<path d="M232.5 365.1V372.3" stroke="#d0245d" stroke-width="1" opacity=".85"/>
<path d="M232.5 368.9V371.3" stroke="#d0245d" stroke-width="1.4"/>
<path d="M233.4 365.0V373.4" stroke="#0d0d0d" stroke-width="1" opacity=".85"/>
<path d="M233.4 367.4V372.1" stroke="#0d0d0d" stroke-width="1.4"/>
<path d="M234.3 363.6V369.8" stroke="#0d0d0d" stroke-width="1" opacity=".85"/>
<path d="M234.3 365.0V367.4" stroke="#0d0d0d" stroke-width="1.4"/>
<path d="M235.2 361.7V370.7" stroke="#d0245d" stroke-width="1" opacity=".85"/>
<path d="M235.2 364.9V366.7" stroke="#d0245d" stroke-width="1.4"/>
<path d="M236.1 363.4V370.9" stroke="#d0245d" stroke-width="1" opacity=".85"/>
<path d="M236.1 366.4V367.6" stroke="#d0245d" stroke-width="1.4"/>
<path d="M236.9 364.6V369.9" stroke="#d0245d" stroke-width="1" opacity=".85"/>
<path d="M236.9 367.7V369.6" stroke="#d0245d" stroke-width="1.4"/>
<path d="M237.8 360.3V369.9" stroke="#0d0d0d" stroke-width="1" opacity=".85"/>
<path d="M237.8 367.4V369.1" stroke="#0d0d0d" stroke-width="1.4"/>
<path d="M238.7 357.4V368.9" stroke="#0d0d0d" stroke-width="1" opacity=".85"/>
<path d="M238.7 360.1V366.2" stroke="#0d0d0d" stroke-width="1.4"/>
<path d="M239.6 352.8V363.2" stroke="#d0245d" stroke-width="1" opacity=".85"/>
<path d="M239.6 359.8V361.4" stroke="#d0245d" stroke-width="1.4"/>
<path d="M240.5 354.5V363.0" stroke="#0d0d0d" stroke-width="1" opacity=".85"/>
<path d="M240.5 360.6V361.8" stroke="#0d0d0d" stroke-width="1.4"/>
<path d="M241.3 350.9V361.0" stroke="#0d0d0d" stroke-width="1" opacity=".85"/>
<path d="M241.3 357.2V359.7" stroke="#0d0d0d" stroke-width="1.4"/>
<path d="M242.2 351.6V357.8" stroke="#0d0d0d" stroke-width="1" opacity=".85"/>
<path d="M242.2 352.7V356.7" stroke="#0d0d0d" stroke-width="1.4"/>
<path d="M243.1 349.8V357.6" stroke="#0d0d0d" stroke-width="1" opacity=".85"/>
<path d="M243.1 351.1V352.4" stroke="#0d0d0d" stroke-width="1.4"/>
<path d="M244.0 344.5V354.5" stroke="#0d0d0d" stroke-width="1" opacity=".85"/>
<path d="M244.0 346.9V350.9" stroke="#0d0d0d" stroke-width="1.4"/>
<path d="M244.9 341.9V351.0" stroke="#0d0d0d" stroke-width="1" opacity=".85"/>
<path d="M244.9 345.0V347.3" stroke="#0d0d0d" stroke-width="1.4"/>
<path d="M245.8 341.8V348.8" stroke="#0d0d0d" stroke-width="1" opacity=".85"/>
<path d="M245.8 342.4V345.4" stroke="#0d0d0d" stroke-width="1.4"/>
<path d="M246.6 341.8V351.1" stroke="#d0245d" stroke-width="1" opacity=".85"/>
<path d="M246.6 342.5V347.5" stroke="#d0245d" stroke-width="1.4"/>
<path d="M247.5 342.9V348.7" stroke="#0d0d0d" stroke-width="1" opacity=".85"/>
<path d="M247.5 344.6V347.4" stroke="#0d0d0d" stroke-width="1.4"/>
<path d="M248.4 341.9V351.5" stroke="#d0245d" stroke-width="1" opacity=".85"/>
<path d="M248.4 344.1V349.7" stroke="#d0245d" stroke-width="1.4"/>
<path d="M249.3 344.8V348.9" stroke="#d0245d" stroke-width="1" opacity=".85"/>
<path d="M249.3 348.6V349.8" stroke="#d0245d" stroke-width="1.4"/>
<path d="M250.2 342.4V352.1" stroke="#0d0d0d" stroke-width="1" opacity=".85"/>
<path d="M250.2 344.6V348.2" stroke="#0d0d0d" stroke-width="1.4"/>
<path d="M251.0 340.4V348.1" stroke="#0d0d0d" stroke-width="1" opacity=".85"/>
<path d="M251.0 341.4V344.7" stroke="#0d0d0d" stroke-width="1.4"/>
<path d="M251.9 339.1V343.2" stroke="#d0245d" stroke-width="1" opacity=".85"/>
<path d="M251.9 341.9V343.1" stroke="#d0245d" stroke-width="1.4"/>
<path d="M252.8 339.1V345.5" stroke="#d0245d" stroke-width="1" opacity=".85"/>
<path d="M252.8 342.4V344.1" stroke="#d0245d" stroke-width="1.4"/>
<path d="M253.7 337.6V346.4" stroke="#0d0d0d" stroke-width="1" opacity=".85"/>
<path d="M253.7 342.3V344.3" stroke="#0d0d0d" stroke-width="1.4"/>
<path d="M254.6 339.1V347.9" stroke="#d0245d" stroke-width="1" opacity=".85"/>
<path d="M254.6 342.0V343.2" stroke="#d0245d" stroke-width="1.4"/>
<path d="M255.4 342.5V349.1" stroke="#d0245d" stroke-width="1" opacity=".85"/>
<path d="M255.4 344.3V346.3" stroke="#d0245d" stroke-width="1.4"/>
<path d="M256.3 343.8V354.3" stroke="#0d0d0d" stroke-width="1" opacity=".85"/>
<path d="M256.3 347.0V348.2" stroke="#0d0d0d" stroke-width="1.4"/>
<path d="M257.2 343.4V350.8" stroke="#0d0d0d" stroke-width="1" opacity=".85"/>
<path d="M257.2 344.5V347.2" stroke="#0d0d0d" stroke-width="1.4"/>
<path d="M258.1 344.2V352.2" stroke="#0d0d0d" stroke-width="1" opacity=".85"/>
<path d="M258.1 345.0V346.2" stroke="#0d0d0d" stroke-width="1.4"/>
<path d="M259.0 344.1V352.4" stroke="#d0245d" stroke-width="1" opacity=".85"/>
<path d="M259.0 344.7V349.1" stroke="#d0245d" stroke-width="1.4"/>
<path d="M259.8 348.2V354.3" stroke="#d0245d" stroke-width="1" opacity=".85"/>
<path d="M259.8 349.1V353.1" stroke="#d0245d" stroke-width="1.4"/>
<path d="M260.7 349.0V359.0" stroke="#d0245d" stroke-width="1" opacity=".85"/>
<path d="M260.7 353.8V355.5" stroke="#d0245d" stroke-width="1.4"/>
<path d="M261.6 350.7V355.9" stroke="#0d0d0d" stroke-width="1" opacity=".85"/>
<path d="M261.6 354.4V355.6" stroke="#0d0d0d" stroke-width="1.4"/>
<path d="M262.5 352.4V355.9" stroke="#0d0d0d" stroke-width="1" opacity=".85"/>
<path d="M262.5 354.4V355.6" stroke="#0d0d0d" stroke-width="1.4"/>
<path d="M263.4 350.6V355.9" stroke="#0d0d0d" stroke-width="1" opacity=".85"/>
<path d="M263.4 352.2V354.1" stroke="#0d0d0d" stroke-width="1.4"/>
<path d="M264.3 343.5V355.9" stroke="#0d0d0d" stroke-width="1" opacity=".85"/>
<path d="M264.3 349.0V352.5" stroke="#0d0d0d" stroke-width="1.4"/>
<path d="M265.1 345.0V353.0" stroke="#d0245d" stroke-width="1" opacity=".85"/>
<path d="M265.1 348.5V350.5" stroke="#d0245d" stroke-width="1.4"/>
<path d="M266.0 338.5V355.7" stroke="#0d0d0d" stroke-width="1" opacity=".85"/>
<path d="M266.0 345.3V349.5" stroke="#0d0d0d" stroke-width="1.4"/>
<path d="M266.9 336.2V350.4" stroke="#0d0d0d" stroke-width="1" opacity=".85"/>
<path d="M266.9 344.1V345.6" stroke="#0d0d0d" stroke-width="1.4"/>
<path d="M267.8 339.2V345.9" stroke="#d0245d" stroke-width="1" opacity=".85"/>
<path d="M267.8 344.4V345.6" stroke="#d0245d" stroke-width="1.4"/>
<path d="M268.7 342.3V349.6" stroke="#d0245d" stroke-width="1" opacity=".85"/>
<path d="M268.7 345.1V348.0" stroke="#d0245d" stroke-width="1.4"/>
<path d="M269.5 341.5V349.5" stroke="#0d0d0d" stroke-width="1" opacity=".85"/>
<path d="M269.5 343.4V348.2" stroke="#0d0d0d" stroke-width="1.4"/>
<path d="M270.4 334.3V347.5" stroke="#0d0d0d" stroke-width="1" opacity=".85"/>
<path d="M270.4 336.2V344.0" stroke="#0d0d0d" stroke-width="1.4"/>
<path d="M271.3 327.2V338.1" stroke="#0d0d0d" stroke-width="1" opacity=".85"/>
<path d="M271.3 330.0V336.1" stroke="#0d0d0d" stroke-width="1.4"/>
<path d="M272.2 320.3V332.9" stroke="#0d0d0d" stroke-width="1" opacity=".85"/>
<path d="M272.2 325.3V330.8" stroke="#0d0d0d" stroke-width="1.4"/>
<path d="M273.1 320.3V328.6" stroke="#0d0d0d" stroke-width="1" opacity=".85"/>
<path d="M273.1 323.9V325.7" stroke="#0d0d0d" stroke-width="1.4"/>
<path d="M273.9 318.3V325.3" stroke="#0d0d0d" stroke-width="1" opacity=".85"/>
<path d="M273.9 321.9V323.9" stroke="#0d0d0d" stroke-width="1.4"/>
<path d="M274.8 314.1V324.1" stroke="#0d0d0d" stroke-width="1" opacity=".85"/>
<path d="M274.8 321.3V322.5" stroke="#0d0d0d" stroke-width="1.4"/>
<path d="M275.7 311.0V324.6" stroke="#0d0d0d" stroke-width="1" opacity=".85"/>
<path d="M275.7 318.1V321.2" stroke="#0d0d0d" stroke-width="1.4"/>
<path d="M276.6 310.2V319.8" stroke="#0d0d0d" stroke-width="1" opacity=".85"/>
<path d="M276.6 311.3V318.0" stroke="#0d0d0d" stroke-width="1.4"/>
<path d="M277.5 304.1V312.9" stroke="#0d0d0d" stroke-width="1" opacity=".85"/>
<path d="M277.5 308.5V311.5" stroke="#0d0d0d" stroke-width="1.4"/>
<path d="M278.3 304.6V309.5" stroke="#d0245d" stroke-width="1" opacity=".85"/>
<path d="M278.3 308.0V309.2" stroke="#d0245d" stroke-width="1.4"/>
<path d="M279.2 304.6V313.1" stroke="#d0245d" stroke-width="1" opacity=".85"/>
<path d="M279.2 308.3V311.0" stroke="#d0245d" stroke-width="1.4"/>
<path d="M280.1 309.0V318.8" stroke="#d0245d" stroke-width="1" opacity=".85"/>
<path d="M280.1 310.8V315.5" stroke="#d0245d" stroke-width="1.4"/>
<path d="M281.0 312.3V322.9" stroke="#d0245d" stroke-width="1" opacity=".85"/>
<path d="M281.0 315.2V316.4" stroke="#d0245d" stroke-width="1.4"/>
<path d="M281.9 314.1V322.9" stroke="#d0245d" stroke-width="1" opacity=".85"/>
<path d="M281.9 316.5V319.8" stroke="#d0245d" stroke-width="1.4"/>
<path d="M282.8 317.3V322.9" stroke="#0d0d0d" stroke-width="1" opacity=".85"/>
<path d="M282.8 319.8V321.0" stroke="#0d0d0d" stroke-width="1.4"/>
<path d="M283.6 313.2V322.7" stroke="#0d0d0d" stroke-width="1" opacity=".85"/>
<path d="M283.6 316.6V320.2" stroke="#0d0d0d" stroke-width="1.4"/>
<path d="M284.5 312.0V319.0" stroke="#d0245d" stroke-width="1" opacity=".85"/>
<path d="M284.5 316.5V317.7" stroke="#d0245d" stroke-width="1.4"/>
<path d="M285.4 311.5V318.2" stroke="#0d0d0d" stroke-width="1" opacity=".85"/>
<path d="M285.4 313.0V316.6" stroke="#0d0d0d" stroke-width="1.4"/>
<path d="M286.3 309.2V316.9" stroke="#d0245d" stroke-width="1" opacity=".85"/>
<path d="M286.3 311.8V314.1" stroke="#d0245d" stroke-width="1.4"/>
<path d="M287.2 311.6V316.3" stroke="#d0245d" stroke-width="1" opacity=".85"/>
<path d="M287.2 313.9V315.1" stroke="#d0245d" stroke-width="1.4"/>
<path d="M288.0 313.8V319.1" stroke="#d0245d" stroke-width="1" opacity=".85"/>
<path d="M288.0 314.7V316.4" stroke="#d0245d" stroke-width="1.4"/>
<path d="M288.9 311.4V317.4" stroke="#0d0d0d" stroke-width="1" opacity=".85"/>
<path d="M288.9 315.0V316.2" stroke="#0d0d0d" stroke-width="1.4"/>
<path d="M289.8 308.5V316.1" stroke="#0d0d0d" stroke-width="1" opacity=".85"/>
<path d="M289.8 312.4V315.0" stroke="#0d0d0d" stroke-width="1.4"/>
<path d="M290.7 306.1V315.8" stroke="#0d0d0d" stroke-width="1" opacity=".85"/>
<path d="M290.7 310.2V312.3" stroke="#0d0d0d" stroke-width="1.4"/>
<path d="M291.6 306.1V311.4" stroke="#0d0d0d" stroke-width="1" opacity=".85"/>
<path d="M291.6 309.0V310.2" stroke="#0d0d0d" stroke-width="1.4"/>
<path d="M292.4 306.1V311.2" stroke="#d0245d" stroke-width="1" opacity=".85"/>
<path d="M292.4 308.5V309.7" stroke="#d0245d" stroke-width="1.4"/>
<path d="M293.3 308.4V312.8" stroke="#d0245d" stroke-width="1" opacity=".85"/>
<path d="M293.3 309.4V311.3" stroke="#d0245d" stroke-width="1.4"/>
<path d="M294.2 309.4V315.7" stroke="#d0245d" stroke-width="1" opacity=".85"/>
<path d="M294.2 310.8V314.0" stroke="#d0245d" stroke-width="1.4"/>
<path d="M295.1 309.7V318.9" stroke="#d0245d" stroke-width="1" opacity=".85"/>
<path d="M295.1 313.7V318.6" stroke="#d0245d" stroke-width="1.4"/>
<path d="M296.0 312.8V318.9" stroke="#d0245d" stroke-width="1" opacity=".85"/>
<path d="M296.0 317.8V319.0" stroke="#d0245d" stroke-width="1.4"/>
<path d="M296.8 314.0V318.9" stroke="#d0245d" stroke-width="1" opacity=".85"/>
<path d="M296.8 318.3V319.5" stroke="#d0245d" stroke-width="1.4"/>
<path d="M297.7 313.4V318.9" stroke="#0d0d0d" stroke-width="1" opacity=".85"/>
<path d="M297.7 315.9V318.6" stroke="#0d0d0d" stroke-width="1.4"/>
<path d="M298.6 311.5V318.9" stroke="#0d0d0d" stroke-width="1" opacity=".85"/>
<path d="M298.6 312.5V316.0" stroke="#0d0d0d" stroke-width="1.4"/>
<path d="M299.5 312.4V318.9" stroke="#d0245d" stroke-width="1" opacity=".85"/>
<path d="M299.5 312.7V314.2" stroke="#d0245d" stroke-width="1.4"/>
<path d="M300.4 312.4V318.2" stroke="#0d0d0d" stroke-width="1" opacity=".85"/>
<path d="M300.4 312.7V314.7" stroke="#0d0d0d" stroke-width="1.4"/>
<path d="M301.3 312.4V316.9" stroke="#d0245d" stroke-width="1" opacity=".85"/>
<path d="M301.3 312.7V313.9" stroke="#d0245d" stroke-width="1.4"/>
<path d="M302.1 312.4V317.2" stroke="#d0245d" stroke-width="1" opacity=".85"/>
<path d="M302.1 313.5V314.7" stroke="#d0245d" stroke-width="1.4"/>
<path d="M303.0 312.4V318.9" stroke="#d0245d" stroke-width="1" opacity=".85"/>
<path d="M303.0 314.5V317.5" stroke="#d0245d" stroke-width="1.4"/>
<path d="M303.9 313.1V322.5" stroke="#0d0d0d" stroke-width="1" opacity=".85"/>
<path d="M303.9 316.5V318.4" stroke="#0d0d0d" stroke-width="1.4"/>
<path d="M304.8 315.8V321.7" stroke="#d0245d" stroke-width="1" opacity=".85"/>
<path d="M304.8 316.7V317.9" stroke="#d0245d" stroke-width="1.4"/>
<path d="M305.7 313.4V324.0" stroke="#d0245d" stroke-width="1" opacity=".85"/>
<path d="M305.7 316.1V320.6" stroke="#d0245d" stroke-width="1.4"/>
<path d="M306.5 317.6V330.3" stroke="#d0245d" stroke-width="1" opacity=".85"/>
<path d="M306.5 320.1V323.9" stroke="#d0245d" stroke-width="1.4"/>
<path d="M307.4 321.8V334.3" stroke="#d0245d" stroke-width="1" opacity=".85"/>
<path d="M307.4 323.8V332.3" stroke="#d0245d" stroke-width="1.4"/>
<path d="M308.3 329.1V336.0" stroke="#0d0d0d" stroke-width="1" opacity=".85"/>
<path d="M308.3 331.9V333.1" stroke="#0d0d0d" stroke-width="1.4"/>
<path d="M309.2 329.9V336.0" stroke="#0d0d0d" stroke-width="1" opacity=".85"/>
<path d="M309.2 331.2V332.5" stroke="#0d0d0d" stroke-width="1.4"/>
<path d="M310.1 327.7V335.2" stroke="#d0245d" stroke-width="1" opacity=".85"/>
<path d="M310.1 330.9V332.1" stroke="#d0245d" stroke-width="1.4"/>
<path d="M310.9 323.9V332.9" stroke="#0d0d0d" stroke-width="1" opacity=".85"/>
<path d="M310.9 328.2V331.6" stroke="#0d0d0d" stroke-width="1.4"/>
<path d="M311.8 318.9V330.7" stroke="#0d0d0d" stroke-width="1" opacity=".85"/>
<path d="M311.8 320.8V328.3" stroke="#0d0d0d" stroke-width="1.4"/>
<path d="M312.7 314.5V324.4" stroke="#0d0d0d" stroke-width="1" opacity=".85"/>
<path d="M312.7 317.1V320.7" stroke="#0d0d0d" stroke-width="1.4"/>
<path d="M313.6 311.6V320.8" stroke="#0d0d0d" stroke-width="1" opacity=".85"/>
<path d="M313.6 312.6V317.5" stroke="#0d0d0d" stroke-width="1.4"/>
<path d="M314.5 303.6V315.2" stroke="#0d0d0d" stroke-width="1" opacity=".85"/>
<path d="M314.5 305.8V313.2" stroke="#0d0d0d" stroke-width="1.4"/>
<path d="M315.3 296.0V310.6" stroke="#0d0d0d" stroke-width="1" opacity=".85"/>
<path d="M315.3 296.3V305.3" stroke="#0d0d0d" stroke-width="1.4"/>
<path d="M316.2 296.0V306.8" stroke="#0d0d0d" stroke-width="1" opacity=".85"/>
<path d="M316.2 296.3V297.5" stroke="#0d0d0d" stroke-width="1.4"/>
<path d="M317.1 296.0V301.2" stroke="#0d0d0d" stroke-width="1" opacity=".85"/>
<path d="M317.1 296.3V297.5" stroke="#0d0d0d" stroke-width="1.4"/>
<path d="M318.0 296.0V306.0" stroke="#d0245d" stroke-width="1" opacity=".85"/>
<path d="M318.0 296.6V299.6" stroke="#d0245d" stroke-width="1.4"/>
<path d="M318.9 297.6V312.9" stroke="#d0245d" stroke-width="1" opacity=".85"/>
<path d="M318.9 299.1V304.1" stroke="#d0245d" stroke-width="1.4"/>
<path d="M319.8 302.0V318.2" stroke="#d0245d" stroke-width="1" opacity=".85"/>
<path d="M319.8 303.9V312.8" stroke="#d0245d" stroke-width="1.4"/>
<path d="M320.6 309.6V320.9" stroke="#d0245d" stroke-width="1" opacity=".85"/>
<path d="M320.6 313.0V316.4" stroke="#d0245d" stroke-width="1.4"/>
<path d="M321.5 312.6V322.6" stroke="#d0245d" stroke-width="1" opacity=".85"/>
<path d="M321.5 316.3V317.5" stroke="#d0245d" stroke-width="1.4"/>
<path d="M322.4 314.4V324.4" stroke="#d0245d" stroke-width="1" opacity=".85"/>
<path d="M322.4 315.6V321.9" stroke="#d0245d" stroke-width="1.4"/>
<path d="M323.3 318.3V328.8" stroke="#d0245d" stroke-width="1" opacity=".85"/>
<path d="M323.3 323.4V327.1" stroke="#d0245d" stroke-width="1.4"/>
<path d="M324.2 322.5V328.8" stroke="#0d0d0d" stroke-width="1" opacity=".85"/>
<path d="M324.2 325.8V327.9" stroke="#0d0d0d" stroke-width="1.4"/>
<path d="M325.0 321.1V328.2" stroke="#0d0d0d" stroke-width="1" opacity=".85"/>
<path d="M325.0 325.2V326.4" stroke="#0d0d0d" stroke-width="1.4"/>
<path d="M325.9 321.2V328.0" stroke="#d0245d" stroke-width="1" opacity=".85"/>
<path d="M325.9 325.6V326.8" stroke="#d0245d" stroke-width="1.4"/>
<path d="M326.8 319.3V328.0" stroke="#0d0d0d" stroke-width="1" opacity=".85"/>
<path d="M326.8 322.7V325.6" stroke="#0d0d0d" stroke-width="1.4"/>
<path d="M327.7 317.6V325.4" stroke="#0d0d0d" stroke-width="1" opacity=".85"/>
<path d="M327.7 318.6V323.1" stroke="#0d0d0d" stroke-width="1.4"/>
<path d="M328.6 317.0V324.7" stroke="#0d0d0d" stroke-width="1" opacity=".85"/>
<path d="M328.6 318.2V319.4" stroke="#0d0d0d" stroke-width="1.4"/>
<path d="M329.4 315.7V320.3" stroke="#0d0d0d" stroke-width="1" opacity=".85"/>
<path d="M329.4 317.5V318.7" stroke="#0d0d0d" stroke-width="1.4"/>
<path d="M330.3 314.8V321.5" stroke="#0d0d0d" stroke-width="1" opacity=".85"/>
<path d="M330.3 316.0V317.3" stroke="#0d0d0d" stroke-width="1.4"/>
<path d="M331.2 314.3V321.3" stroke="#d0245d" stroke-width="1" opacity=".85"/>
<path d="M331.2 315.8V317.0" stroke="#d0245d" stroke-width="1.4"/>
<path d="M332.1 311.3V320.4" stroke="#d0245d" stroke-width="1" opacity=".85"/>
<path d="M332.1 315.6V316.9" stroke="#d0245d" stroke-width="1.4"/>
<path d="M333.0 298.7V319.9" stroke="#0d0d0d" stroke-width="1" opacity=".85"/>
<path d="M333.0 303.6V316.8" stroke="#0d0d0d" stroke-width="1.4"/>
<path d="M333.9 291.9V309.3" stroke="#0d0d0d" stroke-width="1" opacity=".85"/>
<path d="M333.9 295.5V304.4" stroke="#0d0d0d" stroke-width="1.4"/>
<path d="M334.7 293.1V305.2" stroke="#d0245d" stroke-width="1" opacity=".85"/>
<path d="M334.7 296.4V303.3" stroke="#d0245d" stroke-width="1.4"/>
<path d="M335.6 298.5V310.2" stroke="#d0245d" stroke-width="1" opacity=".85"/>
<path d="M335.6 302.5V303.7" stroke="#d0245d" stroke-width="1.4"/>
<path d="M336.5 296.9V309.3" stroke="#0d0d0d" stroke-width="1" opacity=".85"/>
<path d="M336.5 302.8V304.8" stroke="#0d0d0d" stroke-width="1.4"/>
<path d="M337.4 289.9V306.7" stroke="#0d0d0d" stroke-width="1" opacity=".85"/>
<path d="M337.4 291.4V303.3" stroke="#0d0d0d" stroke-width="1.4"/>
<path d="M338.3 278.3V296.9" stroke="#0d0d0d" stroke-width="1" opacity=".85"/>
<path d="M338.3 281.5V291.8" stroke="#0d0d0d" stroke-width="1.4"/>
<path d="M339.1 267.1V286.9" stroke="#0d0d0d" stroke-width="1" opacity=".85"/>
<path d="M339.1 271.7V280.9" stroke="#0d0d0d" stroke-width="1.4"/>
<path d="M340.0 263.4V278.6" stroke="#0d0d0d" stroke-width="1" opacity=".85"/>
<path d="M340.0 267.9V272.2" stroke="#0d0d0d" stroke-width="1.4"/>
<path d="M340.9 267.1V276.7" stroke="#d0245d" stroke-width="1" opacity=".85"/>
<path d="M340.9 267.4V274.0" stroke="#d0245d" stroke-width="1.4"/>
<path d="M341.8 270.4V279.4" stroke="#0d0d0d" stroke-width="1" opacity=".85"/>
<path d="M341.8 273.2V274.4" stroke="#0d0d0d" stroke-width="1.4"/>
<path d="M342.7 269.7V282.6" stroke="#d0245d" stroke-width="1" opacity=".85"/>
<path d="M342.7 272.1V277.0" stroke="#d0245d" stroke-width="1.4"/>
<path d="M343.5 274.0V281.5" stroke="#d0245d" stroke-width="1" opacity=".85"/>
<path d="M343.5 276.3V279.5" stroke="#d0245d" stroke-width="1.4"/>
<path d="M344.4 272.1V282.4" stroke="#0d0d0d" stroke-width="1" opacity=".85"/>
<path d="M344.4 276.9V279.8" stroke="#0d0d0d" stroke-width="1.4"/>
<path d="M345.3 270.5V279.3" stroke="#0d0d0d" stroke-width="1" opacity=".85"/>
<path d="M345.3 275.8V277.0" stroke="#0d0d0d" stroke-width="1.4"/>
<path d="M346.2 270.8V284.1" stroke="#d0245d" stroke-width="1" opacity=".85"/>
<path d="M346.2 276.3V280.6" stroke="#d0245d" stroke-width="1.4"/>
<path d="M347.1 275.9V287.9" stroke="#d0245d" stroke-width="1" opacity=".85"/>
<path d="M347.1 279.8V285.1" stroke="#d0245d" stroke-width="1.4"/>
<path d="M347.9 279.2V289.2" stroke="#d0245d" stroke-width="1" opacity=".85"/>
<path d="M347.9 284.8V288.0" stroke="#d0245d" stroke-width="1.4"/>
<path d="M348.8 276.8V289.3" stroke="#0d0d0d" stroke-width="1" opacity=".85"/>
<path d="M348.8 280.7V288.5" stroke="#0d0d0d" stroke-width="1.4"/>
<path d="M349.7 276.4V288.1" stroke="#0d0d0d" stroke-width="1" opacity=".85"/>
<path d="M349.7 278.0V280.4" stroke="#0d0d0d" stroke-width="1.4"/>
<path d="M350.6 273.4V283.4" stroke="#0d0d0d" stroke-width="1" opacity=".85"/>
<path d="M350.6 277.4V278.6" stroke="#0d0d0d" stroke-width="1.4"/>
<path d="M351.5 274.2V284.9" stroke="#0d0d0d" stroke-width="1" opacity=".85"/>
<path d="M351.5 277.0V278.2" stroke="#0d0d0d" stroke-width="1.4"/>
<path d="M352.4 276.2V289.8" stroke="#d0245d" stroke-width="1" opacity=".85"/>
<path d="M352.4 277.9V286.7" stroke="#d0245d" stroke-width="1.4"/>
<path d="M353.2 276.2V292.3" stroke="#d0245d" stroke-width="1" opacity=".85"/>
<path d="M353.2 287.6V290.9" stroke="#d0245d" stroke-width="1.4"/>
<path d="M354.1 284.1V296.9" stroke="#0d0d0d" stroke-width="1" opacity=".85"/>
<path d="M354.1 287.3V290.6" stroke="#0d0d0d" stroke-width="1.4"/>
<path d="M355.0 279.8V293.0" stroke="#0d0d0d" stroke-width="1" opacity=".85"/>
<path d="M355.0 284.4V287.8" stroke="#0d0d0d" stroke-width="1.4"/>
<path d="M355.9 271.7V287.0" stroke="#0d0d0d" stroke-width="1" opacity=".85"/>
<path d="M355.9 281.0V285.0" stroke="#0d0d0d" stroke-width="1.4"/>
<path d="M356.8 265.2V283.4" stroke="#0d0d0d" stroke-width="1" opacity=".85"/>
<path d="M356.8 270.9V281.6" stroke="#0d0d0d" stroke-width="1.4"/>
<path d="M357.6 262.7V272.6" stroke="#0d0d0d" stroke-width="1" opacity=".85"/>
<path d="M357.6 267.1V269.9" stroke="#0d0d0d" stroke-width="1.4"/>
<path d="M358.5 260.3V267.9" stroke="#0d0d0d" stroke-width="1" opacity=".85"/>
<path d="M358.5 262.7V266.8" stroke="#0d0d0d" stroke-width="1.4"/>
<path d="M359.4 254.6V270.3" stroke="#0d0d0d" stroke-width="1" opacity=".85"/>
<path d="M359.4 259.3V262.6" stroke="#0d0d0d" stroke-width="1.4"/>
<path d="M360.3 254.2V263.1" stroke="#d0245d" stroke-width="1" opacity=".85"/>
<path d="M360.3 260.4V261.6" stroke="#d0245d" stroke-width="1.4"/>
<path d="M361.2 252.6V264.9" stroke="#0d0d0d" stroke-width="1" opacity=".85"/>
<path d="M361.2 257.1V261.4" stroke="#0d0d0d" stroke-width="1.4"/>
<path d="M362.0 249.8V263.3" stroke="#0d0d0d" stroke-width="1" opacity=".85"/>
<path d="M362.0 253.3V257.5" stroke="#0d0d0d" stroke-width="1.4"/>
<path d="M362.9 250.1V256.7" stroke="#d0245d" stroke-width="1" opacity=".85"/>
<path d="M362.9 252.6V253.8" stroke="#d0245d" stroke-width="1.4"/>
<path d="M363.8 244.0V257.6" stroke="#0d0d0d" stroke-width="1" opacity=".85"/>
<path d="M363.8 246.6V254.0" stroke="#0d0d0d" stroke-width="1.4"/>
<path d="M364.7 244.7V255.6" stroke="#d0245d" stroke-width="1" opacity=".85"/>
<path d="M364.7 246.7V253.0" stroke="#d0245d" stroke-width="1.4"/>
<path d="M365.6 244.4V255.1" stroke="#0d0d0d" stroke-width="1" opacity=".85"/>
<path d="M365.6 248.9V252.1" stroke="#0d0d0d" stroke-width="1.4"/>
<path d="M366.4 243.9V258.9" stroke="#d0245d" stroke-width="1" opacity=".85"/>
<path d="M366.4 249.4V255.9" stroke="#d0245d" stroke-width="1.4"/>
<path d="M367.3 241.7V258.9" stroke="#0d0d0d" stroke-width="1" opacity=".85"/>
<path d="M367.3 245.9V255.5" stroke="#0d0d0d" stroke-width="1.4"/>
<path d="M368.2 237.5V257.0" stroke="#0d0d0d" stroke-width="1" opacity=".85"/>
<path d="M368.2 241.1V246.6" stroke="#0d0d0d" stroke-width="1.4"/>
<path d="M369.1 229.7V246.5" stroke="#0d0d0d" stroke-width="1" opacity=".85"/>
<path d="M369.1 235.9V241.7" stroke="#0d0d0d" stroke-width="1.4"/>
<path d="M370.0 219.8V238.7" stroke="#0d0d0d" stroke-width="1" opacity=".85"/>
<path d="M370.0 227.4V236.6" stroke="#0d0d0d" stroke-width="1.4"/>
<path d="M370.9 212.8V231.2" stroke="#0d0d0d" stroke-width="1" opacity=".85"/>
<path d="M370.9 218.7V227.7" stroke="#0d0d0d" stroke-width="1.4"/>
<path d="M371.7 207.7V224.8" stroke="#0d0d0d" stroke-width="1" opacity=".85"/>
<path d="M371.7 209.4V219.9" stroke="#0d0d0d" stroke-width="1.4"/>
<path d="M372.6 202.0V214.0" stroke="#0d0d0d" stroke-width="1" opacity=".85"/>
<path d="M372.6 208.4V211.1" stroke="#0d0d0d" stroke-width="1.4"/>
<path d="M373.5 199.8V213.7" stroke="#d0245d" stroke-width="1" opacity=".85"/>
<path d="M373.5 208.5V209.7" stroke="#d0245d" stroke-width="1.4"/>
<path d="M374.4 201.9V216.6" stroke="#d0245d" stroke-width="1" opacity=".85"/>
<path d="M374.4 210.5V213.0" stroke="#d0245d" stroke-width="1.4"/>
<path d="M375.3 208.4V219.3" stroke="#d0245d" stroke-width="1" opacity=".85"/>
<path d="M375.3 214.4V216.1" stroke="#d0245d" stroke-width="1.4"/>
<path d="M376.1 206.6V217.4" stroke="#0d0d0d" stroke-width="1" opacity=".85"/>
<path d="M376.1 214.2V215.4" stroke="#0d0d0d" stroke-width="1.4"/>
<path d="M377.0 199.7V216.4" stroke="#0d0d0d" stroke-width="1" opacity=".85"/>
<path d="M377.0 201.7V214.2" stroke="#0d0d0d" stroke-width="1.4"/>
<path d="M377.9 193.4V206.8" stroke="#0d0d0d" stroke-width="1" opacity=".85"/>
<path d="M377.9 199.2V201.3" stroke="#0d0d0d" stroke-width="1.4"/>
<path d="M378.8 185.6V201.5" stroke="#0d0d0d" stroke-width="1" opacity=".85"/>
<path d="M378.8 197.6V199.8" stroke="#0d0d0d" stroke-width="1.4"/>
<path d="M379.7 188.4V200.9" stroke="#0d0d0d" stroke-width="1" opacity=".85"/>
<path d="M379.7 190.7V197.4" stroke="#0d0d0d" stroke-width="1.4"/>
<path d="M380.5 185.7V193.0" stroke="#0d0d0d" stroke-width="1" opacity=".85"/>
<path d="M380.5 188.6V190.2" stroke="#0d0d0d" stroke-width="1.4"/>
<path d="M381.4 185.7V202.1" stroke="#d0245d" stroke-width="1" opacity=".85"/>
<path d="M381.4 189.3V194.6" stroke="#d0245d" stroke-width="1.4"/>
<path d="M382.3 190.0V200.3" stroke="#d0245d" stroke-width="1" opacity=".85"/>
<path d="M382.3 194.1V195.3" stroke="#d0245d" stroke-width="1.4"/>
<path d="M383.2 192.9V205.4" stroke="#d0245d" stroke-width="1" opacity=".85"/>
<path d="M383.2 195.1V199.3" stroke="#d0245d" stroke-width="1.4"/>
<path d="M384.1 196.3V212.2" stroke="#d0245d" stroke-width="1" opacity=".85"/>
<path d="M384.1 199.7V204.9" stroke="#d0245d" stroke-width="1.4"/>
<path d="M384.9 201.7V219.3" stroke="#d0245d" stroke-width="1" opacity=".85"/>
<path d="M384.9 205.0V212.0" stroke="#d0245d" stroke-width="1.4"/>
<path d="M385.8 208.6V221.1" stroke="#d0245d" stroke-width="1" opacity=".85"/>
<path d="M385.8 211.7V219.4" stroke="#d0245d" stroke-width="1.4"/>
<path d="M386.7 208.4V232.7" stroke="#d0245d" stroke-width="1" opacity=".85"/>
<path d="M386.7 218.9V225.1" stroke="#d0245d" stroke-width="1.4"/>
<path d="M387.6 218.8V234.3" stroke="#d0245d" stroke-width="1" opacity=".85"/>
<path d="M387.6 224.3V231.6" stroke="#d0245d" stroke-width="1.4"/>
<path d="M388.5 226.0V239.2" stroke="#d0245d" stroke-width="1" opacity=".85"/>
<path d="M388.5 230.2V238.5" stroke="#d0245d" stroke-width="1.4"/>
<path d="M389.4 224.4V239.2" stroke="#0d0d0d" stroke-width="1" opacity=".85"/>
<path d="M389.4 234.2V238.0" stroke="#0d0d0d" stroke-width="1.4"/>
<path d="M390.2 231.1V239.2" stroke="#d0245d" stroke-width="1" opacity=".85"/>
<path d="M390.2 234.1V238.9" stroke="#d0245d" stroke-width="1.4"/>
<path d="M391.1 233.5V239.3" stroke="#0d0d0d" stroke-width="1" opacity=".85"/>
<path d="M391.1 235.6V239.0" stroke="#0d0d0d" stroke-width="1.4"/>
<path d="M392.0 228.1V238.4" stroke="#0d0d0d" stroke-width="1" opacity=".85"/>
<path d="M392.0 232.1V236.1" stroke="#0d0d0d" stroke-width="1.4"/>
<path d="M392.9 223.7V240.4" stroke="#0d0d0d" stroke-width="1" opacity=".85"/>
<path d="M392.9 226.0V232.8" stroke="#0d0d0d" stroke-width="1.4"/>
<path d="M393.8 222.6V232.9" stroke="#0d0d0d" stroke-width="1" opacity=".85"/>
<path d="M393.8 224.7V225.9" stroke="#0d0d0d" stroke-width="1.4"/>
<path d="M394.6 219.7V226.7" stroke="#0d0d0d" stroke-width="1" opacity=".85"/>
<path d="M394.6 225.1V226.3" stroke="#0d0d0d" stroke-width="1.4"/>
<path d="M395.5 219.1V230.5" stroke="#0d0d0d" stroke-width="1" opacity=".85"/>
<path d="M395.5 222.4V226.5" stroke="#0d0d0d" stroke-width="1.4"/>
<path d="M396.4 211.5V224.2" stroke="#0d0d0d" stroke-width="1" opacity=".85"/>
<path d="M396.4 214.3V222.1" stroke="#0d0d0d" stroke-width="1.4"/>
<path d="M397.3 199.9V223.1" stroke="#0d0d0d" stroke-width="1" opacity=".85"/>
<path d="M397.3 203.1V215.1" stroke="#0d0d0d" stroke-width="1.4"/>
<path d="M398.2 190.3V213.3" stroke="#0d0d0d" stroke-width="1" opacity=".85"/>
<path d="M398.2 194.4V204.0" stroke="#0d0d0d" stroke-width="1.4"/>
<path d="M399.0 179.0V200.9" stroke="#0d0d0d" stroke-width="1" opacity=".85"/>
<path d="M399.0 183.8V193.1" stroke="#0d0d0d" stroke-width="1.4"/>
<path d="M399.9 177.3V190.3" stroke="#0d0d0d" stroke-width="1" opacity=".85"/>
<path d="M399.9 182.2V185.0" stroke="#0d0d0d" stroke-width="1.4"/>
<path d="M400.8 174.4V185.1" stroke="#0d0d0d" stroke-width="1" opacity=".85"/>
<path d="M400.8 180.4V183.2" stroke="#0d0d0d" stroke-width="1.4"/>
<path d="M401.7 174.4V185.9" stroke="#d0245d" stroke-width="1" opacity=".85"/>
<path d="M401.7 179.3V183.9" stroke="#d0245d" stroke-width="1.4"/>
<path d="M402.6 175.1V193.8" stroke="#d0245d" stroke-width="1" opacity=".85"/>
<path d="M402.6 185.1V189.7" stroke="#d0245d" stroke-width="1.4"/>
<path d="M403.4 182.0V193.1" stroke="#0d0d0d" stroke-width="1" opacity=".85"/>
<path d="M403.4 186.5V188.4" stroke="#0d0d0d" stroke-width="1.4"/>
<path d="M404.3 186.1V199.0" stroke="#d0245d" stroke-width="1" opacity=".85"/>
<path d="M404.3 187.9V189.8" stroke="#d0245d" stroke-width="1.4"/>
<path d="M405.2 187.0V201.7" stroke="#d0245d" stroke-width="1" opacity=".85"/>
<path d="M405.2 189.1V190.3" stroke="#d0245d" stroke-width="1.4"/>
<path d="M406.1 185.1V201.7" stroke="#d0245d" stroke-width="1" opacity=".85"/>
<path d="M406.1 189.3V197.6" stroke="#d0245d" stroke-width="1.4"/>
<path d="M407.0 193.8V206.0" stroke="#d0245d" stroke-width="1" opacity=".85"/>
<path d="M407.0 197.6V199.9" stroke="#d0245d" stroke-width="1.4"/>
<path d="M407.9 195.5V201.7" stroke="#0d0d0d" stroke-width="1" opacity=".85"/>
<path d="M407.9 201.4V202.6" stroke="#0d0d0d" stroke-width="1.4"/>
<path d="M408.7 187.9V201.7" stroke="#0d0d0d" stroke-width="1" opacity=".85"/>
<path d="M408.7 189.9V201.4" stroke="#0d0d0d" stroke-width="1.4"/>
<path d="M409.6 180.6V200.2" stroke="#0d0d0d" stroke-width="1" opacity=".85"/>
<path d="M409.6 185.0V190.0" stroke="#0d0d0d" stroke-width="1.4"/>
<path d="M410.5 180.4V195.3" stroke="#0d0d0d" stroke-width="1" opacity=".85"/>
<path d="M410.5 185.0V186.2" stroke="#0d0d0d" stroke-width="1.4"/>
<path d="M411.4 174.8V188.3" stroke="#0d0d0d" stroke-width="1" opacity=".85"/>
<path d="M411.4 180.0V184.8" stroke="#0d0d0d" stroke-width="1.4"/>
<path d="M412.3 165.2V182.8" stroke="#0d0d0d" stroke-width="1" opacity=".85"/>
<path d="M412.3 172.4V180.1" stroke="#0d0d0d" stroke-width="1.4"/>
<path d="M413.1 155.6V177.4" stroke="#0d0d0d" stroke-width="1" opacity=".85"/>
<path d="M413.1 165.5V174.0" stroke="#0d0d0d" stroke-width="1.4"/>
<path d="M414.0 144.2V169.7" stroke="#0d0d0d" stroke-width="1" opacity=".85"/>
<path d="M414.0 156.9V166.6" stroke="#0d0d0d" stroke-width="1.4"/>
<path d="M414.9 142.1V160.6" stroke="#0d0d0d" stroke-width="1" opacity=".85"/>
<path d="M414.9 146.8V156.2" stroke="#0d0d0d" stroke-width="1.4"/>
<path d="M415.8 136.8V153.1" stroke="#0d0d0d" stroke-width="1" opacity=".85"/>
<path d="M415.8 145.6V146.8" stroke="#0d0d0d" stroke-width="1.4"/>
<path d="M416.7 132.4V152.2" stroke="#0d0d0d" stroke-width="1" opacity=".85"/>
<path d="M416.7 135.3V145.0" stroke="#0d0d0d" stroke-width="1.4"/>
<path d="M417.5 121.7V143.6" stroke="#0d0d0d" stroke-width="1" opacity=".85"/>
<path d="M417.5 130.9V135.3" stroke="#0d0d0d" stroke-width="1.4"/>
<path d="M418.4 122.6V142.6" stroke="#d0245d" stroke-width="1" opacity=".85"/>
<path d="M418.4 130.5V133.1" stroke="#d0245d" stroke-width="1.4"/>
<path d="M419.3 122.7V135.5" stroke="#0d0d0d" stroke-width="1" opacity=".85"/>
<path d="M419.3 129.6V133.4" stroke="#0d0d0d" stroke-width="1.4"/>
<path d="M420.2 127.8V154.3" stroke="#d0245d" stroke-width="1" opacity=".85"/>
<path d="M420.2 129.9V146.7" stroke="#d0245d" stroke-width="1.4"/>
<path d="M421.1 132.9V153.2" stroke="#d0245d" stroke-width="1" opacity=".85"/>
<path d="M421.1 147.5V149.6" stroke="#d0245d" stroke-width="1.4"/>
<path d="M422.0 137.9V159.4" stroke="#d0245d" stroke-width="1" opacity=".85"/>
<path d="M422.0 149.1V154.3" stroke="#d0245d" stroke-width="1.4"/>
<path d="M422.8 141.7V162.1" stroke="#d0245d" stroke-width="1" opacity=".85"/>
<path d="M422.8 154.9V156.9" stroke="#d0245d" stroke-width="1.4"/>
<path d="M423.7 151.2V159.6" stroke="#0d0d0d" stroke-width="1" opacity=".85"/>
<path d="M423.7 154.8V157.6" stroke="#0d0d0d" stroke-width="1.4"/>
<path d="M424.6 152.2V159.9" stroke="#0d0d0d" stroke-width="1" opacity=".85"/>
<path d="M424.6 154.1V155.3" stroke="#0d0d0d" stroke-width="1.4"/>
<path d="M425.5 141.2V160.3" stroke="#0d0d0d" stroke-width="1" opacity=".85"/>
<path d="M425.5 148.8V153.7" stroke="#0d0d0d" stroke-width="1.4"/>
<path d="M426.4 145.5V165.7" stroke="#d0245d" stroke-width="1" opacity=".85"/>
<path d="M426.4 146.5V157.0" stroke="#d0245d" stroke-width="1.4"/>
<path d="M427.2 154.1V170.4" stroke="#d0245d" stroke-width="1" opacity=".85"/>
<path d="M427.2 159.8V168.7" stroke="#d0245d" stroke-width="1.4"/>
<path d="M428.1 161.7V173.2" stroke="#d0245d" stroke-width="1" opacity=".85"/>
<path d="M428.1 168.1V171.1" stroke="#d0245d" stroke-width="1.4"/>
<path d="M429.0 162.6V175.8" stroke="#d0245d" stroke-width="1" opacity=".85"/>
<path d="M429.0 169.0V174.9" stroke="#d0245d" stroke-width="1.4"/>
<path d="M429.9 157.7V180.7" stroke="#0d0d0d" stroke-width="1" opacity=".85"/>
<path d="M429.9 166.8V173.8" stroke="#0d0d0d" stroke-width="1.4"/>
<path d="M430.8 158.2V172.8" stroke="#0d0d0d" stroke-width="1" opacity=".85"/>
<path d="M430.8 162.1V166.7" stroke="#0d0d0d" stroke-width="1.4"/>
<path d="M431.6 157.9V172.1" stroke="#0d0d0d" stroke-width="1" opacity=".85"/>
<path d="M431.6 158.2V161.8" stroke="#0d0d0d" stroke-width="1.4"/>
<path d="M432.5 157.8V170.0" stroke="#d0245d" stroke-width="1" opacity=".85"/>
<path d="M432.5 159.6V164.5" stroke="#d0245d" stroke-width="1.4"/>
<path d="M433.4 160.4V184.7" stroke="#d0245d" stroke-width="1" opacity=".85"/>
<path d="M433.4 162.8V179.5" stroke="#d0245d" stroke-width="1.4"/>
<path d="M434.3 169.9V189.8" stroke="#d0245d" stroke-width="1" opacity=".85"/>
<path d="M434.3 181.4V187.5" stroke="#d0245d" stroke-width="1.4"/>
<path d="M435.2 175.5V190.5" stroke="#0d0d0d" stroke-width="1" opacity=".85"/>
<path d="M435.2 182.3V188.4" stroke="#0d0d0d" stroke-width="1.4"/>
<path d="M436.0 170.6V186.7" stroke="#0d0d0d" stroke-width="1" opacity=".85"/>
<path d="M436.0 180.5V181.7" stroke="#0d0d0d" stroke-width="1.4"/>
<path d="M436.9 164.1V185.0" stroke="#0d0d0d" stroke-width="1" opacity=".85"/>
<path d="M436.9 168.8V181.0" stroke="#0d0d0d" stroke-width="1.4"/>
<path d="M437.8 155.9V172.6" stroke="#0d0d0d" stroke-width="1" opacity=".85"/>
<path d="M437.8 161.2V168.7" stroke="#0d0d0d" stroke-width="1.4"/>
<path d="M438.7 150.9V163.5" stroke="#0d0d0d" stroke-width="1" opacity=".85"/>
<path d="M438.7 153.3V159.3" stroke="#0d0d0d" stroke-width="1.4"/>
<path d="M439.6 144.6V160.6" stroke="#0d0d0d" stroke-width="1" opacity=".85"/>
<path d="M439.6 146.6V154.3" stroke="#0d0d0d" stroke-width="1.4"/>
<path d="M440.5 137.9V154.1" stroke="#0d0d0d" stroke-width="1" opacity=".85"/>
<path d="M440.5 143.6V147.0" stroke="#0d0d0d" stroke-width="1.4"/>
<path d="M441.3 136.8V158.5" stroke="#0d0d0d" stroke-width="1" opacity=".85"/>
<path d="M441.3 139.0V144.5" stroke="#0d0d0d" stroke-width="1.4"/>
<path d="M442.2 127.4V142.3" stroke="#0d0d0d" stroke-width="1" opacity=".85"/>
<path d="M442.2 137.0V139.4" stroke="#0d0d0d" stroke-width="1.4"/>
<path d="M443.1 124.7V143.2" stroke="#0d0d0d" stroke-width="1" opacity=".85"/>
<path d="M443.1 127.4V138.3" stroke="#0d0d0d" stroke-width="1.4"/>
<path d="M444.0 123.6V132.5" stroke="#d0245d" stroke-width="1" opacity=".85"/>
<path d="M444.0 126.3V127.5" stroke="#d0245d" stroke-width="1.4"/>
<path d="M444.9 116.2V133.1" stroke="#d0245d" stroke-width="1" opacity=".85"/>
<path d="M444.9 125.4V128.2" stroke="#d0245d" stroke-width="1.4"/>
<path d="M445.7 121.7V137.0" stroke="#0d0d0d" stroke-width="1" opacity=".85"/>
<path d="M445.7 126.6V129.7" stroke="#0d0d0d" stroke-width="1.4"/>
<path d="M446.6 122.2V136.8" stroke="#d0245d" stroke-width="1" opacity=".85"/>
<path d="M446.6 127.1V128.3" stroke="#d0245d" stroke-width="1.4"/>
<path d="M447.5 123.3V136.5" stroke="#d0245d" stroke-width="1" opacity=".85"/>
<path d="M447.5 125.5V129.4" stroke="#d0245d" stroke-width="1.4"/>
<path d="M448.4 115.6V136.5" stroke="#0d0d0d" stroke-width="1" opacity=".85"/>
<path d="M448.4 122.7V129.9" stroke="#0d0d0d" stroke-width="1.4"/>
<path d="M449.3 114.6V130.1" stroke="#0d0d0d" stroke-width="1" opacity=".85"/>
<path d="M449.3 119.2V124.4" stroke="#0d0d0d" stroke-width="1.4"/>
<path d="M450.1 109.1V127.4" stroke="#0d0d0d" stroke-width="1" opacity=".85"/>
<path d="M450.1 113.0V119.0" stroke="#0d0d0d" stroke-width="1.4"/>
<path d="M451.0 103.3V122.5" stroke="#d0245d" stroke-width="1" opacity=".85"/>
<path d="M451.0 111.7V113.5" stroke="#d0245d" stroke-width="1.4"/>
<path d="M451.9 102.0V116.1" stroke="#0d0d0d" stroke-width="1" opacity=".85"/>
<path d="M451.9 109.9V114.3" stroke="#0d0d0d" stroke-width="1.4"/>
<path d="M452.8 102.0V119.1" stroke="#d0245d" stroke-width="1" opacity=".85"/>
<path d="M452.8 109.6V114.7" stroke="#d0245d" stroke-width="1.4"/>
<path d="M453.7 107.5V126.4" stroke="#0d0d0d" stroke-width="1" opacity=".85"/>
<path d="M453.7 114.5V115.7" stroke="#0d0d0d" stroke-width="1.4"/>
<path d="M454.5 111.8V129.3" stroke="#d0245d" stroke-width="1" opacity=".85"/>
<path d="M454.5 114.6V122.4" stroke="#d0245d" stroke-width="1.4"/>
<path d="M455.4 116.8V138.6" stroke="#d0245d" stroke-width="1" opacity=".85"/>
<path d="M455.4 122.5V128.0" stroke="#d0245d" stroke-width="1.4"/>
<path d="M456.3 126.2V142.0" stroke="#d0245d" stroke-width="1" opacity=".85"/>
<path d="M456.3 128.9V141.5" stroke="#d0245d" stroke-width="1.4"/>
<path d="M457.2 123.7V142.0" stroke="#0d0d0d" stroke-width="1" opacity=".85"/>
<path d="M457.2 127.9V141.7" stroke="#0d0d0d" stroke-width="1.4"/>
<path d="M458.1 109.1V141.9" stroke="#0d0d0d" stroke-width="1" opacity=".85"/>
<path d="M458.1 113.6V125.4" stroke="#0d0d0d" stroke-width="1.4"/>
<path d="M459.0 102.6V120.1" stroke="#d0245d" stroke-width="1" opacity=".85"/>
<path d="M459.0 114.2V116.4" stroke="#d0245d" stroke-width="1.4"/>
<path d="M459.8 98.2V120.8" stroke="#0d0d0d" stroke-width="1" opacity=".85"/>
<path d="M459.8 108.4V116.8" stroke="#0d0d0d" stroke-width="1.4"/>
<path d="M460.7 92.8V118.1" stroke="#0d0d0d" stroke-width="1" opacity=".85"/>
<path d="M460.7 99.2V110.5" stroke="#0d0d0d" stroke-width="1.4"/>
<path d="M461.6 83.1V105.9" stroke="#0d0d0d" stroke-width="1" opacity=".85"/>
<path d="M461.6 95.4V99.8" stroke="#0d0d0d" stroke-width="1.4"/>
<path d="M462.5 74.4V98.0" stroke="#0d0d0d" stroke-width="1" opacity=".85"/>
<path d="M462.5 83.9V94.5" stroke="#0d0d0d" stroke-width="1.4"/>
<path d="M463.4 56.7V87.9" stroke="#0d0d0d" stroke-width="1" opacity=".85"/>
<path d="M463.4 71.0V83.6" stroke="#0d0d0d" stroke-width="1.4"/>
<path d="M464.2 44.0V80.4" stroke="#0d0d0d" stroke-width="1" opacity=".85"/>
<path d="M464.2 51.9V73.0" stroke="#0d0d0d" stroke-width="1.4"/>
<path d="M465.1 44.0V62.9" stroke="#d0245d" stroke-width="1" opacity=".85"/>
<path d="M465.1 51.6V55.1" stroke="#d0245d" stroke-width="1.4"/>
<path d="M466.0 48.0V75.1" stroke="#d0245d" stroke-width="1" opacity=".85"/>
<path d="M466.0 54.9V72.1" stroke="#d0245d" stroke-width="1.4"/>
<path d="M466.9 63.1V93.2" stroke="#d0245d" stroke-width="1" opacity=".85"/>
<path d="M466.9 72.4V81.0" stroke="#d0245d" stroke-width="1.4"/>
<path d="M467.8 72.7V108.2" stroke="#d0245d" stroke-width="1" opacity=".85"/>
<path d="M467.8 80.9V94.3" stroke="#d0245d" stroke-width="1.4"/>
<path d="M468.6 85.9V111.0" stroke="#d0245d" stroke-width="1" opacity=".85"/>
<path d="M468.6 92.1V100.6" stroke="#d0245d" stroke-width="1.4"/>
<path d="M469.5 84.4V116.5" stroke="#0d0d0d" stroke-width="1" opacity=".85"/>
<path d="M469.5 89.1V99.2" stroke="#0d0d0d" stroke-width="1.4"/>
<path d="M470.4 71.1V93.4" stroke="#0d0d0d" stroke-width="1" opacity=".85"/>
<path d="M470.4 73.7V88.9" stroke="#0d0d0d" stroke-width="1.4"/>
<path d="M471.3 61.4V81.1" stroke="#0d0d0d" stroke-width="1" opacity=".85"/>
<path d="M471.3 69.4V73.0" stroke="#0d0d0d" stroke-width="1.4"/>
<path d="M472.2 49.3V75.6" stroke="#0d0d0d" stroke-width="1" opacity=".85"/>
<path d="M472.2 58.6V68.3" stroke="#0d0d0d" stroke-width="1.4"/>
<path d="M473.0 55.0V71.1" stroke="#0d0d0d" stroke-width="1" opacity=".85"/>
<path d="M473.0 57.2V58.4" stroke="#0d0d0d" stroke-width="1.4"/>
<path d="M473.9 55.0V68.7" stroke="#d0245d" stroke-width="1" opacity=".85"/>
<path d="M473.9 56.2V64.3" stroke="#d0245d" stroke-width="1.4"/>
<path d="M474.8 53.0V69.9" stroke="#0d0d0d" stroke-width="1" opacity=".85"/>
<path d="M474.8 63.2V65.6" stroke="#0d0d0d" stroke-width="1.4"/>
<path d="M475.7 55.1V73.1" stroke="#d0245d" stroke-width="1" opacity=".85"/>
<path d="M475.7 63.9V68.2" stroke="#d0245d" stroke-width="1.4"/>
<path d="M476.6 60.7V72.2" stroke="#0d0d0d" stroke-width="1" opacity=".85"/>
<path d="M476.6 68.1V69.3" stroke="#0d0d0d" stroke-width="1.4"/>
<path d="M477.5 55.5V78.3" stroke="#0d0d0d" stroke-width="1" opacity=".85"/>
<path d="M477.5 58.0V70.7" stroke="#0d0d0d" stroke-width="1.4"/>
<path d="M478.3 53.0V68.9" stroke="#0d0d0d" stroke-width="1" opacity=".85"/>
<path d="M478.3 53.3V57.3" stroke="#0d0d0d" stroke-width="1.4"/>
<path d="M479.2 53.0V67.1" stroke="#d0245d" stroke-width="1" opacity=".85"/>
<path d="M479.2 53.3V64.3" stroke="#d0245d" stroke-width="1.4"/>
<path d="M480.1 58.5V84.2" stroke="#d0245d" stroke-width="1" opacity=".85"/>
<path d="M480.1 65.8V72.4" stroke="#d0245d" stroke-width="1.4"/>
<path d="M481.0 66.0V85.9" stroke="#d0245d" stroke-width="1" opacity=".85"/>
<path d="M481.0 71.2V82.8" stroke="#d0245d" stroke-width="1.4"/>
<path d="M481.9 70.0V89.3" stroke="#0d0d0d" stroke-width="1" opacity=".85"/>
<path d="M481.9 79.6V83.4" stroke="#0d0d0d" stroke-width="1.4"/>
<path d="M482.7 72.5V92.9" stroke="#d0245d" stroke-width="1" opacity=".85"/>
<path d="M482.7 79.6V88.1" stroke="#d0245d" stroke-width="1.4"/>
<path d="M483.6 86.3V97.0" stroke="#d0245d" stroke-width="1" opacity=".85"/>
<path d="M483.6 88.7V91.2" stroke="#d0245d" stroke-width="1.4"/>
<path d="M484.5 87.4V98.1" stroke="#d0245d" stroke-width="1" opacity=".85"/>
<path d="M484.5 89.9V94.7" stroke="#d0245d" stroke-width="1.4"/>
<path d="M485.4 69.7V100.4" stroke="#0d0d0d" stroke-width="1" opacity=".85"/>
<path d="M485.4 76.0V94.1" stroke="#0d0d0d" stroke-width="1.4"/>
<path d="M486.3 68.7V89.2" stroke="#d0245d" stroke-width="1" opacity=".85"/>
<path d="M486.3 75.6V76.8" stroke="#d0245d" stroke-width="1.4"/>
<path d="M487.1 64.0V82.7" stroke="#0d0d0d" stroke-width="1" opacity=".85"/>
<path d="M487.1 72.8V78.2" stroke="#0d0d0d" stroke-width="1.4"/>
<path d="M488.0 64.5V96.4" stroke="#d0245d" stroke-width="1" opacity=".85"/>
<path d="M488.0 71.8V89.4" stroke="#d0245d" stroke-width="1.4"/>
<path d="M488.9 78.4V112.3" stroke="#d0245d" stroke-width="1" opacity=".85"/>
<path d="M488.9 92.1V96.4" stroke="#d0245d" stroke-width="1.4"/>
<path d="M489.8 92.5V107.0" stroke="#d0245d" stroke-width="1" opacity=".85"/>
<path d="M489.8 96.5V102.9" stroke="#d0245d" stroke-width="1.4"/>
<path d="M490.7 97.4V110.3" stroke="#d0245d" stroke-width="1" opacity=".85"/>
<path d="M490.7 102.0V105.3" stroke="#d0245d" stroke-width="1.4"/>
<path d="M491.5 91.6V132.6" stroke="#d0245d" stroke-width="1" opacity=".85"/>
<path d="M491.5 104.2V124.0" stroke="#d0245d" stroke-width="1.4"/>
<path d="M492.4 121.2V167.0" stroke="#d0245d" stroke-width="1" opacity=".85"/>
<path d="M492.4 124.9V165.0" stroke="#d0245d" stroke-width="1.4"/>
</g>
<polygon points="508,129 523.5,213.5 532.5,209.5 517.5,239.5 498.5,213 508.5,216" fill="#dd6c8d" fill-opacity=".92" stroke="#dc557f" stroke-width="1.6" stroke-linejoin="round"/>
<text x="101" y="145" font-size="27.5" font-weight="bold" fill="#0a0a0a" textLength="105.3" lengthAdjust="spacingAndGlyphs">$ Dollar</text>
<text x="53.1" y="175" font-size="20.3" fill="#e0386f" textLength="210.2" lengthAdjust="spacingAndGlyphs">Parabolic curve broken</text>
<path d="M272.6 157.8C274.4 162.6 279.1 166.6 279.1 171.6a6.250 6.250 0 0 1-12.500 0C266.600 166.600 270.800 162.600 272.600 157.800Z" fill="#2bb8f0" stroke="#10222e" stroke-width="1.6" stroke-linejoin="round"/>
<g id="tvlogo" fill="#d1d4dc">
<path d="M6.500 463.800h5.600v6.500h-2.900v-3.600h-2.700z"/>
<circle cx="14.200" cy="465.300" r="1.500"/>
<path d="M16.300 463.800h3.900l-2.900 6.500h-3.700z"/>
</g>
<text class="tv" x="23.8" y="470.3" textLength="49.8" lengthAdjust="spacingAndGlyphs">TradingView</text>
<g id="wmlogo" fill="#ebebf0">
<rect x="543.4" y="442.4" width="19.2" height="3.9" rx="1.95"/>
<circle cx="568.1" cy="444.35" r="2.1"/>
<rect x="543.4" y="449.2" width="7.6" height="3.9" rx="1.95"/>
<rect x="563" y="449.2" width="7.2" height="3.9" rx="1.95"/>
<circle cx="545.3" cy="459" r="2.2"/>
<rect x="550.9" y="457" width="19.3" height="4" rx="2"/>
</g>
<text class="wm" x="574.2" y="458.7" textLength="58" lengthAdjust="spacingAndGlyphs">非小号</text>
</svg>
</body>
</html>
